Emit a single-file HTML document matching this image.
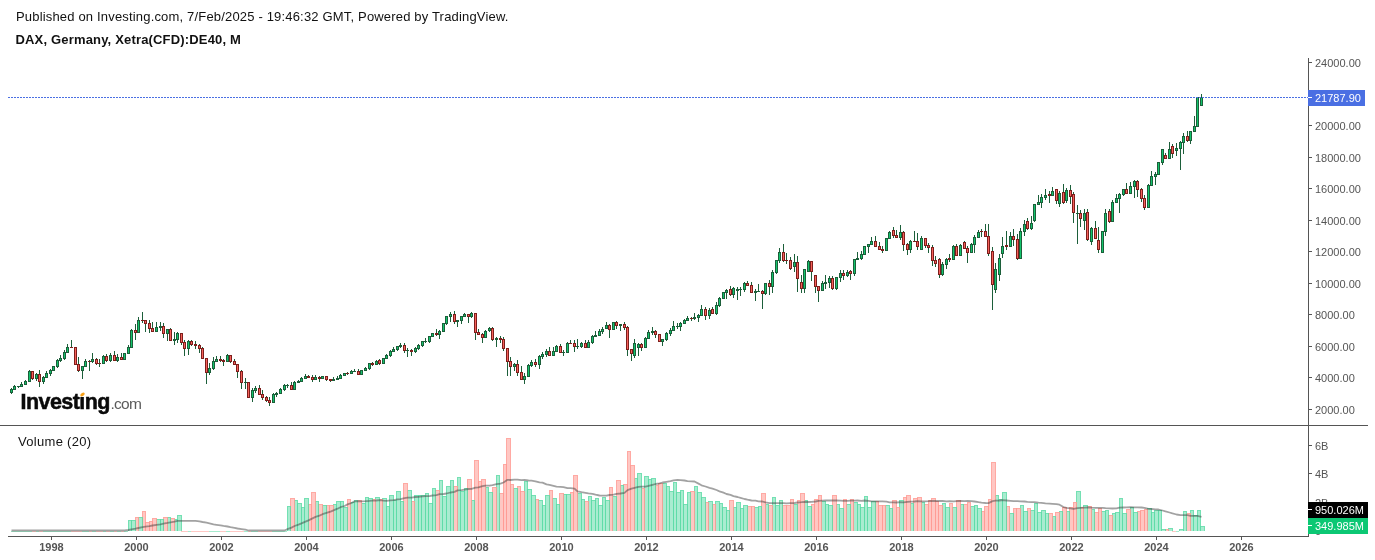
<!DOCTYPE html>
<html><head><meta charset="utf-8"><title>DAX, Germany, Xetra(CFD):DE40, M</title>
<style>
html,body{margin:0;padding:0;background:#fff;}
body{width:1375px;height:560px;overflow:hidden;position:relative;font-family:"Liberation Sans",sans-serif;}
svg{position:absolute;left:0;top:0;}
svg rect, svg path{shape-rendering:crispEdges;}
.t{font:11px "Liberation Sans",sans-serif;fill:#555;}
.tb{font:bold 11px "Liberation Sans",sans-serif;fill:#555;}
.tw{font:11px "Liberation Sans",sans-serif;fill:#fff;}
.h1{position:absolute;left:16px;top:9px;font-size:13px;line-height:15px;color:#111;white-space:nowrap;letter-spacing:0.175px;}
.h2{position:absolute;left:15.5px;top:32px;font-size:13px;line-height:15px;font-weight:bold;color:#111;white-space:nowrap;letter-spacing:0.17px;}
.vl{position:absolute;left:18px;top:433.5px;font-size:13px;line-height:15px;color:#151515;white-space:nowrap;letter-spacing:0.3px;}
.logo{position:absolute;left:20.5px;top:389.5px;white-space:nowrap;line-height:24px;height:24px;}
.logo b{font-size:21.5px;letter-spacing:-0.55px;color:#0a0a0a;font-weight:bold;-webkit-text-stroke:0.5px #0a0a0a;}
.logo span{font-size:15.5px;letter-spacing:-0.7px;color:#5a5a5a;margin-left:0.5px;}
.cover{position:absolute;left:78.5px;top:389px;width:7px;height:7.6px;background:#fff;}
.dot{position:absolute;left:79.5px;top:392.5px;width:5px;height:3px;background:#f7a11a;border-radius:50%;transform:rotate(-35deg);}
</style></head><body>
<svg width="1375" height="560" viewBox="0 0 1375 560">
<rect x="1201" y="527" width="3" height="4" fill="#a9ecd0"/>
<path d="M1200.5 531V526.5H1204.5V531" fill="none" stroke="#5cdaa6" stroke-opacity="0.85" stroke-width="1"/>
<rect x="1198" y="511" width="2" height="20" fill="#a9ecd0"/>
<path d="M1197.5 531V510.5H1200.5V531" fill="none" stroke="#5cdaa6" stroke-opacity="0.85" stroke-width="1"/>
<rect x="1194" y="516" width="3" height="15" fill="#a9ecd0"/>
<path d="M1193.5 531V515.5H1197.5V531" fill="none" stroke="#5cdaa6" stroke-opacity="0.85" stroke-width="1"/>
<rect x="1191" y="511" width="2" height="20" fill="#a9ecd0"/>
<path d="M1190.5 531V510.5H1193.5V531" fill="none" stroke="#5cdaa6" stroke-opacity="0.85" stroke-width="1"/>
<rect x="1187" y="514" width="3" height="17" fill="#ffc7c3"/>
<path d="M1186.5 531V513.5H1190.5V531" fill="none" stroke="#ff9a93" stroke-opacity="0.85" stroke-width="1"/>
<rect x="1184" y="512" width="2" height="19" fill="#a9ecd0"/>
<path d="M1183.5 531V511.5H1186.5V531" fill="none" stroke="#5cdaa6" stroke-opacity="0.85" stroke-width="1"/>
<rect x="1180" y="530" width="3" height="1" fill="#a9ecd0"/>
<path d="M1179.5 531V529.5H1183.5V531" fill="none" stroke="#5cdaa6" stroke-opacity="0.85" stroke-width="1"/>
<rect x="1176" y="531" width="3" height="1" fill="#5cdaa6" opacity="0.55"/>
<rect x="1172" y="531" width="4" height="1" fill="#ff9a93" opacity="0.55"/>
<rect x="1169" y="529" width="3" height="2" fill="#a9ecd0"/>
<path d="M1168.5 531V528.5H1172.5V531" fill="none" stroke="#5cdaa6" stroke-opacity="0.85" stroke-width="1"/>
<rect x="1166" y="530" width="2" height="1" fill="#ffc7c3"/>
<path d="M1165.5 531V529.5H1168.5V531" fill="none" stroke="#ff9a93" stroke-opacity="0.85" stroke-width="1"/>
<rect x="1162" y="530" width="3" height="1" fill="#a9ecd0"/>
<path d="M1161.5 531V529.5H1165.5V531" fill="none" stroke="#5cdaa6" stroke-opacity="0.85" stroke-width="1"/>
<rect x="1159" y="511" width="2" height="20" fill="#a9ecd0"/>
<path d="M1158.5 531V510.5H1161.5V531" fill="none" stroke="#5cdaa6" stroke-opacity="0.85" stroke-width="1"/>
<rect x="1155" y="511" width="3" height="20" fill="#a9ecd0"/>
<path d="M1154.5 531V510.5H1158.5V531" fill="none" stroke="#5cdaa6" stroke-opacity="0.85" stroke-width="1"/>
<rect x="1152" y="513" width="2" height="18" fill="#a9ecd0"/>
<path d="M1151.5 531V512.5H1154.5V531" fill="none" stroke="#5cdaa6" stroke-opacity="0.85" stroke-width="1"/>
<rect x="1148" y="509" width="3" height="22" fill="#a9ecd0"/>
<path d="M1147.5 531V508.5H1151.5V531" fill="none" stroke="#5cdaa6" stroke-opacity="0.85" stroke-width="1"/>
<rect x="1145" y="510" width="2" height="21" fill="#ffc7c3"/>
<path d="M1144.5 531V509.5H1147.5V531" fill="none" stroke="#ff9a93" stroke-opacity="0.85" stroke-width="1"/>
<rect x="1141" y="511" width="3" height="20" fill="#ffc7c3"/>
<path d="M1140.5 531V510.5H1144.5V531" fill="none" stroke="#ff9a93" stroke-opacity="0.85" stroke-width="1"/>
<rect x="1138" y="512" width="2" height="19" fill="#ffc7c3"/>
<path d="M1137.5 531V511.5H1140.5V531" fill="none" stroke="#ff9a93" stroke-opacity="0.85" stroke-width="1"/>
<rect x="1134" y="513" width="3" height="18" fill="#a9ecd0"/>
<path d="M1133.5 531V512.5H1137.5V531" fill="none" stroke="#5cdaa6" stroke-opacity="0.85" stroke-width="1"/>
<rect x="1131" y="508" width="2" height="23" fill="#a9ecd0"/>
<path d="M1130.5 531V507.5H1133.5V531" fill="none" stroke="#5cdaa6" stroke-opacity="0.85" stroke-width="1"/>
<rect x="1127" y="510" width="3" height="21" fill="#ffc7c3"/>
<path d="M1126.5 531V509.5H1130.5V531" fill="none" stroke="#ff9a93" stroke-opacity="0.85" stroke-width="1"/>
<rect x="1123" y="514" width="3" height="17" fill="#a9ecd0"/>
<path d="M1122.5 531V513.5H1126.5V531" fill="none" stroke="#5cdaa6" stroke-opacity="0.85" stroke-width="1"/>
<rect x="1120" y="499" width="2" height="32" fill="#a9ecd0"/>
<path d="M1119.5 531V498.5H1122.5V531" fill="none" stroke="#5cdaa6" stroke-opacity="0.85" stroke-width="1"/>
<rect x="1116" y="513" width="3" height="18" fill="#a9ecd0"/>
<path d="M1115.5 531V512.5H1119.5V531" fill="none" stroke="#5cdaa6" stroke-opacity="0.85" stroke-width="1"/>
<rect x="1113" y="514" width="2" height="17" fill="#a9ecd0"/>
<path d="M1112.5 531V513.5H1115.5V531" fill="none" stroke="#5cdaa6" stroke-opacity="0.85" stroke-width="1"/>
<rect x="1109" y="516" width="3" height="15" fill="#ffc7c3"/>
<path d="M1108.5 531V515.5H1112.5V531" fill="none" stroke="#ff9a93" stroke-opacity="0.85" stroke-width="1"/>
<rect x="1106" y="511" width="2" height="20" fill="#a9ecd0"/>
<path d="M1105.5 531V510.5H1108.5V531" fill="none" stroke="#5cdaa6" stroke-opacity="0.85" stroke-width="1"/>
<rect x="1102" y="512" width="3" height="19" fill="#a9ecd0"/>
<path d="M1101.5 531V511.5H1105.5V531" fill="none" stroke="#5cdaa6" stroke-opacity="0.85" stroke-width="1"/>
<rect x="1099" y="509" width="2" height="22" fill="#ffc7c3"/>
<path d="M1098.5 531V508.5H1101.5V531" fill="none" stroke="#ff9a93" stroke-opacity="0.85" stroke-width="1"/>
<rect x="1095" y="513" width="3" height="18" fill="#ffc7c3"/>
<path d="M1094.5 531V512.5H1098.5V531" fill="none" stroke="#ff9a93" stroke-opacity="0.85" stroke-width="1"/>
<rect x="1092" y="510" width="2" height="21" fill="#a9ecd0"/>
<path d="M1091.5 531V509.5H1094.5V531" fill="none" stroke="#5cdaa6" stroke-opacity="0.85" stroke-width="1"/>
<rect x="1088" y="507" width="3" height="24" fill="#ffc7c3"/>
<path d="M1087.5 531V506.5H1091.5V531" fill="none" stroke="#ff9a93" stroke-opacity="0.85" stroke-width="1"/>
<rect x="1084" y="506" width="3" height="25" fill="#a9ecd0"/>
<path d="M1083.5 531V505.5H1087.5V531" fill="none" stroke="#5cdaa6" stroke-opacity="0.85" stroke-width="1"/>
<rect x="1081" y="508" width="2" height="23" fill="#ffc7c3"/>
<path d="M1080.5 531V507.5H1083.5V531" fill="none" stroke="#ff9a93" stroke-opacity="0.85" stroke-width="1"/>
<rect x="1077" y="492" width="3" height="39" fill="#a9ecd0"/>
<path d="M1076.5 531V491.5H1080.5V531" fill="none" stroke="#5cdaa6" stroke-opacity="0.85" stroke-width="1"/>
<rect x="1074" y="503" width="2" height="28" fill="#ffc7c3"/>
<path d="M1073.5 531V502.5H1076.5V531" fill="none" stroke="#ff9a93" stroke-opacity="0.85" stroke-width="1"/>
<rect x="1070" y="508" width="3" height="23" fill="#ffc7c3"/>
<path d="M1069.5 531V507.5H1073.5V531" fill="none" stroke="#ff9a93" stroke-opacity="0.85" stroke-width="1"/>
<rect x="1067" y="512" width="2" height="19" fill="#a9ecd0"/>
<path d="M1066.5 531V511.5H1069.5V531" fill="none" stroke="#5cdaa6" stroke-opacity="0.85" stroke-width="1"/>
<rect x="1063" y="508" width="3" height="23" fill="#ffc7c3"/>
<path d="M1062.5 531V507.5H1066.5V531" fill="none" stroke="#ff9a93" stroke-opacity="0.85" stroke-width="1"/>
<rect x="1060" y="512" width="2" height="19" fill="#a9ecd0"/>
<path d="M1059.5 531V511.5H1062.5V531" fill="none" stroke="#5cdaa6" stroke-opacity="0.85" stroke-width="1"/>
<rect x="1056" y="513" width="3" height="18" fill="#ffc7c3"/>
<path d="M1055.5 531V512.5H1059.5V531" fill="none" stroke="#ff9a93" stroke-opacity="0.85" stroke-width="1"/>
<rect x="1053" y="517" width="2" height="14" fill="#a9ecd0"/>
<path d="M1052.5 531V516.5H1055.5V531" fill="none" stroke="#5cdaa6" stroke-opacity="0.85" stroke-width="1"/>
<rect x="1049" y="514" width="3" height="17" fill="#ffc7c3"/>
<path d="M1048.5 531V513.5H1052.5V531" fill="none" stroke="#ff9a93" stroke-opacity="0.85" stroke-width="1"/>
<rect x="1046" y="514" width="2" height="17" fill="#a9ecd0"/>
<path d="M1045.5 531V513.5H1048.5V531" fill="none" stroke="#5cdaa6" stroke-opacity="0.85" stroke-width="1"/>
<rect x="1042" y="511" width="3" height="20" fill="#a9ecd0"/>
<path d="M1041.5 531V510.5H1045.5V531" fill="none" stroke="#5cdaa6" stroke-opacity="0.85" stroke-width="1"/>
<rect x="1038" y="513" width="3" height="18" fill="#a9ecd0"/>
<path d="M1037.5 531V512.5H1041.5V531" fill="none" stroke="#5cdaa6" stroke-opacity="0.85" stroke-width="1"/>
<rect x="1035" y="504" width="2" height="27" fill="#a9ecd0"/>
<path d="M1034.5 531V503.5H1037.5V531" fill="none" stroke="#5cdaa6" stroke-opacity="0.85" stroke-width="1"/>
<rect x="1031" y="511" width="3" height="20" fill="#a9ecd0"/>
<path d="M1030.5 531V510.5H1034.5V531" fill="none" stroke="#5cdaa6" stroke-opacity="0.85" stroke-width="1"/>
<rect x="1028" y="509" width="2" height="22" fill="#ffc7c3"/>
<path d="M1027.5 531V508.5H1030.5V531" fill="none" stroke="#ff9a93" stroke-opacity="0.85" stroke-width="1"/>
<rect x="1024" y="512" width="3" height="19" fill="#a9ecd0"/>
<path d="M1023.5 531V511.5H1027.5V531" fill="none" stroke="#5cdaa6" stroke-opacity="0.85" stroke-width="1"/>
<rect x="1021" y="506" width="2" height="25" fill="#a9ecd0"/>
<path d="M1020.5 531V505.5H1023.5V531" fill="none" stroke="#5cdaa6" stroke-opacity="0.85" stroke-width="1"/>
<rect x="1017" y="509" width="3" height="22" fill="#ffc7c3"/>
<path d="M1016.5 531V508.5H1020.5V531" fill="none" stroke="#ff9a93" stroke-opacity="0.85" stroke-width="1"/>
<rect x="1014" y="509" width="2" height="22" fill="#ffc7c3"/>
<path d="M1013.5 531V508.5H1016.5V531" fill="none" stroke="#ff9a93" stroke-opacity="0.85" stroke-width="1"/>
<rect x="1010" y="514" width="3" height="17" fill="#a9ecd0"/>
<path d="M1009.5 531V513.5H1013.5V531" fill="none" stroke="#5cdaa6" stroke-opacity="0.85" stroke-width="1"/>
<rect x="1007" y="507" width="2" height="24" fill="#ffc7c3"/>
<path d="M1006.5 531V506.5H1009.5V531" fill="none" stroke="#ff9a93" stroke-opacity="0.85" stroke-width="1"/>
<rect x="1003" y="493" width="3" height="38" fill="#a9ecd0"/>
<path d="M1002.5 531V492.5H1006.5V531" fill="none" stroke="#5cdaa6" stroke-opacity="0.85" stroke-width="1"/>
<rect x="999" y="500" width="3" height="31" fill="#a9ecd0"/>
<path d="M998.5 531V499.5H1002.5V531" fill="none" stroke="#5cdaa6" stroke-opacity="0.85" stroke-width="1"/>
<rect x="996" y="496" width="2" height="35" fill="#a9ecd0"/>
<path d="M995.5 531V495.5H998.5V531" fill="none" stroke="#5cdaa6" stroke-opacity="0.85" stroke-width="1"/>
<rect x="992" y="463" width="3" height="68" fill="#ffc7c3"/>
<path d="M991.5 531V462.5H995.5V531" fill="none" stroke="#ff9a93" stroke-opacity="0.85" stroke-width="1"/>
<rect x="989" y="500" width="2" height="31" fill="#ffc7c3"/>
<path d="M988.5 531V499.5H991.5V531" fill="none" stroke="#ff9a93" stroke-opacity="0.85" stroke-width="1"/>
<rect x="985" y="507" width="3" height="24" fill="#ffc7c3"/>
<path d="M984.5 531V506.5H988.5V531" fill="none" stroke="#ff9a93" stroke-opacity="0.85" stroke-width="1"/>
<rect x="982" y="512" width="2" height="19" fill="#ffc7c3"/>
<path d="M981.5 531V511.5H984.5V531" fill="none" stroke="#ff9a93" stroke-opacity="0.85" stroke-width="1"/>
<rect x="978" y="509" width="3" height="22" fill="#a9ecd0"/>
<path d="M977.5 531V508.5H981.5V531" fill="none" stroke="#5cdaa6" stroke-opacity="0.85" stroke-width="1"/>
<rect x="975" y="506" width="2" height="25" fill="#a9ecd0"/>
<path d="M974.5 531V505.5H977.5V531" fill="none" stroke="#5cdaa6" stroke-opacity="0.85" stroke-width="1"/>
<rect x="971" y="507" width="3" height="24" fill="#a9ecd0"/>
<path d="M970.5 531V506.5H974.5V531" fill="none" stroke="#5cdaa6" stroke-opacity="0.85" stroke-width="1"/>
<rect x="968" y="503" width="2" height="28" fill="#ffc7c3"/>
<path d="M967.5 531V502.5H970.5V531" fill="none" stroke="#ff9a93" stroke-opacity="0.85" stroke-width="1"/>
<rect x="964" y="505" width="3" height="26" fill="#ffc7c3"/>
<path d="M963.5 531V504.5H967.5V531" fill="none" stroke="#ff9a93" stroke-opacity="0.85" stroke-width="1"/>
<rect x="961" y="505" width="2" height="26" fill="#a9ecd0"/>
<path d="M960.5 531V504.5H963.5V531" fill="none" stroke="#5cdaa6" stroke-opacity="0.85" stroke-width="1"/>
<rect x="957" y="501" width="3" height="30" fill="#ffc7c3"/>
<path d="M956.5 531V500.5H960.5V531" fill="none" stroke="#ff9a93" stroke-opacity="0.85" stroke-width="1"/>
<rect x="953" y="508" width="3" height="23" fill="#a9ecd0"/>
<path d="M952.5 531V507.5H956.5V531" fill="none" stroke="#5cdaa6" stroke-opacity="0.85" stroke-width="1"/>
<rect x="950" y="504" width="2" height="27" fill="#ffc7c3"/>
<path d="M949.5 531V503.5H952.5V531" fill="none" stroke="#ff9a93" stroke-opacity="0.85" stroke-width="1"/>
<rect x="946" y="508" width="3" height="23" fill="#a9ecd0"/>
<path d="M945.5 531V507.5H949.5V531" fill="none" stroke="#5cdaa6" stroke-opacity="0.85" stroke-width="1"/>
<rect x="943" y="504" width="2" height="27" fill="#a9ecd0"/>
<path d="M942.5 531V503.5H945.5V531" fill="none" stroke="#5cdaa6" stroke-opacity="0.85" stroke-width="1"/>
<rect x="939" y="506" width="3" height="25" fill="#ffc7c3"/>
<path d="M938.5 531V505.5H942.5V531" fill="none" stroke="#ff9a93" stroke-opacity="0.85" stroke-width="1"/>
<rect x="936" y="502" width="2" height="29" fill="#ffc7c3"/>
<path d="M935.5 531V501.5H938.5V531" fill="none" stroke="#ff9a93" stroke-opacity="0.85" stroke-width="1"/>
<rect x="932" y="499" width="3" height="32" fill="#ffc7c3"/>
<path d="M931.5 531V498.5H935.5V531" fill="none" stroke="#ff9a93" stroke-opacity="0.85" stroke-width="1"/>
<rect x="929" y="501" width="2" height="30" fill="#ffc7c3"/>
<path d="M928.5 531V500.5H931.5V531" fill="none" stroke="#ff9a93" stroke-opacity="0.85" stroke-width="1"/>
<rect x="925" y="505" width="3" height="26" fill="#ffc7c3"/>
<path d="M924.5 531V504.5H928.5V531" fill="none" stroke="#ff9a93" stroke-opacity="0.85" stroke-width="1"/>
<rect x="922" y="503" width="2" height="28" fill="#a9ecd0"/>
<path d="M921.5 531V502.5H924.5V531" fill="none" stroke="#5cdaa6" stroke-opacity="0.85" stroke-width="1"/>
<rect x="918" y="498" width="3" height="33" fill="#ffc7c3"/>
<path d="M917.5 531V497.5H921.5V531" fill="none" stroke="#ff9a93" stroke-opacity="0.85" stroke-width="1"/>
<rect x="914" y="499" width="3" height="32" fill="#ffc7c3"/>
<path d="M913.5 531V498.5H917.5V531" fill="none" stroke="#ff9a93" stroke-opacity="0.85" stroke-width="1"/>
<rect x="911" y="504" width="2" height="27" fill="#a9ecd0"/>
<path d="M910.5 531V503.5H913.5V531" fill="none" stroke="#5cdaa6" stroke-opacity="0.85" stroke-width="1"/>
<rect x="907" y="496" width="3" height="35" fill="#ffc7c3"/>
<path d="M906.5 531V495.5H910.5V531" fill="none" stroke="#ff9a93" stroke-opacity="0.85" stroke-width="1"/>
<rect x="904" y="498" width="2" height="33" fill="#ffc7c3"/>
<path d="M903.5 531V497.5H906.5V531" fill="none" stroke="#ff9a93" stroke-opacity="0.85" stroke-width="1"/>
<rect x="900" y="501" width="3" height="30" fill="#a9ecd0"/>
<path d="M899.5 531V500.5H903.5V531" fill="none" stroke="#5cdaa6" stroke-opacity="0.85" stroke-width="1"/>
<rect x="897" y="508" width="2" height="23" fill="#ffc7c3"/>
<path d="M896.5 531V507.5H899.5V531" fill="none" stroke="#ff9a93" stroke-opacity="0.85" stroke-width="1"/>
<rect x="893" y="501" width="3" height="30" fill="#ffc7c3"/>
<path d="M892.5 531V500.5H896.5V531" fill="none" stroke="#ff9a93" stroke-opacity="0.85" stroke-width="1"/>
<rect x="890" y="509" width="2" height="22" fill="#a9ecd0"/>
<path d="M889.5 531V508.5H892.5V531" fill="none" stroke="#5cdaa6" stroke-opacity="0.85" stroke-width="1"/>
<rect x="886" y="506" width="3" height="25" fill="#a9ecd0"/>
<path d="M885.5 531V505.5H889.5V531" fill="none" stroke="#5cdaa6" stroke-opacity="0.85" stroke-width="1"/>
<rect x="883" y="506" width="2" height="25" fill="#ffc7c3"/>
<path d="M882.5 531V505.5H885.5V531" fill="none" stroke="#ff9a93" stroke-opacity="0.85" stroke-width="1"/>
<rect x="879" y="506" width="3" height="25" fill="#ffc7c3"/>
<path d="M878.5 531V505.5H882.5V531" fill="none" stroke="#ff9a93" stroke-opacity="0.85" stroke-width="1"/>
<rect x="876" y="502" width="2" height="29" fill="#ffc7c3"/>
<path d="M875.5 531V501.5H878.5V531" fill="none" stroke="#ff9a93" stroke-opacity="0.85" stroke-width="1"/>
<rect x="872" y="502" width="3" height="29" fill="#a9ecd0"/>
<path d="M871.5 531V501.5H875.5V531" fill="none" stroke="#5cdaa6" stroke-opacity="0.85" stroke-width="1"/>
<rect x="868" y="508" width="3" height="23" fill="#a9ecd0"/>
<path d="M867.5 531V507.5H871.5V531" fill="none" stroke="#5cdaa6" stroke-opacity="0.85" stroke-width="1"/>
<rect x="865" y="497" width="2" height="34" fill="#a9ecd0"/>
<path d="M864.5 531V496.5H867.5V531" fill="none" stroke="#5cdaa6" stroke-opacity="0.85" stroke-width="1"/>
<rect x="861" y="508" width="3" height="23" fill="#a9ecd0"/>
<path d="M860.5 531V507.5H864.5V531" fill="none" stroke="#5cdaa6" stroke-opacity="0.85" stroke-width="1"/>
<rect x="858" y="505" width="2" height="26" fill="#a9ecd0"/>
<path d="M857.5 531V504.5H860.5V531" fill="none" stroke="#5cdaa6" stroke-opacity="0.85" stroke-width="1"/>
<rect x="854" y="503" width="3" height="28" fill="#a9ecd0"/>
<path d="M853.5 531V502.5H857.5V531" fill="none" stroke="#5cdaa6" stroke-opacity="0.85" stroke-width="1"/>
<rect x="851" y="500" width="2" height="31" fill="#ffc7c3"/>
<path d="M850.5 531V499.5H853.5V531" fill="none" stroke="#ff9a93" stroke-opacity="0.85" stroke-width="1"/>
<rect x="847" y="505" width="3" height="26" fill="#a9ecd0"/>
<path d="M846.5 531V504.5H850.5V531" fill="none" stroke="#5cdaa6" stroke-opacity="0.85" stroke-width="1"/>
<rect x="844" y="500" width="2" height="31" fill="#ffc7c3"/>
<path d="M843.5 531V499.5H846.5V531" fill="none" stroke="#ff9a93" stroke-opacity="0.85" stroke-width="1"/>
<rect x="840" y="509" width="3" height="22" fill="#a9ecd0"/>
<path d="M839.5 531V508.5H843.5V531" fill="none" stroke="#5cdaa6" stroke-opacity="0.85" stroke-width="1"/>
<rect x="837" y="505" width="2" height="26" fill="#a9ecd0"/>
<path d="M836.5 531V504.5H839.5V531" fill="none" stroke="#5cdaa6" stroke-opacity="0.85" stroke-width="1"/>
<rect x="833" y="496" width="3" height="35" fill="#ffc7c3"/>
<path d="M832.5 531V495.5H836.5V531" fill="none" stroke="#ff9a93" stroke-opacity="0.85" stroke-width="1"/>
<rect x="829" y="506" width="3" height="25" fill="#a9ecd0"/>
<path d="M828.5 531V505.5H832.5V531" fill="none" stroke="#5cdaa6" stroke-opacity="0.85" stroke-width="1"/>
<rect x="826" y="505" width="2" height="26" fill="#a9ecd0"/>
<path d="M825.5 531V504.5H828.5V531" fill="none" stroke="#5cdaa6" stroke-opacity="0.85" stroke-width="1"/>
<rect x="822" y="502" width="3" height="29" fill="#a9ecd0"/>
<path d="M821.5 531V501.5H825.5V531" fill="none" stroke="#5cdaa6" stroke-opacity="0.85" stroke-width="1"/>
<rect x="819" y="496" width="2" height="35" fill="#ffc7c3"/>
<path d="M818.5 531V495.5H821.5V531" fill="none" stroke="#ff9a93" stroke-opacity="0.85" stroke-width="1"/>
<rect x="815" y="500" width="3" height="31" fill="#ffc7c3"/>
<path d="M814.5 531V499.5H818.5V531" fill="none" stroke="#ff9a93" stroke-opacity="0.85" stroke-width="1"/>
<rect x="812" y="505" width="2" height="26" fill="#ffc7c3"/>
<path d="M811.5 531V504.5H814.5V531" fill="none" stroke="#ff9a93" stroke-opacity="0.85" stroke-width="1"/>
<rect x="808" y="507" width="3" height="24" fill="#a9ecd0"/>
<path d="M807.5 531V506.5H811.5V531" fill="none" stroke="#5cdaa6" stroke-opacity="0.85" stroke-width="1"/>
<rect x="805" y="501" width="2" height="30" fill="#a9ecd0"/>
<path d="M804.5 531V500.5H807.5V531" fill="none" stroke="#5cdaa6" stroke-opacity="0.85" stroke-width="1"/>
<rect x="801" y="494" width="3" height="37" fill="#ffc7c3"/>
<path d="M800.5 531V493.5H804.5V531" fill="none" stroke="#ff9a93" stroke-opacity="0.85" stroke-width="1"/>
<rect x="798" y="501" width="2" height="30" fill="#ffc7c3"/>
<path d="M797.5 531V500.5H800.5V531" fill="none" stroke="#ff9a93" stroke-opacity="0.85" stroke-width="1"/>
<rect x="794" y="505" width="3" height="26" fill="#a9ecd0"/>
<path d="M793.5 531V504.5H797.5V531" fill="none" stroke="#5cdaa6" stroke-opacity="0.85" stroke-width="1"/>
<rect x="791" y="500" width="2" height="31" fill="#ffc7c3"/>
<path d="M790.5 531V499.5H793.5V531" fill="none" stroke="#ff9a93" stroke-opacity="0.85" stroke-width="1"/>
<rect x="787" y="506" width="3" height="25" fill="#ffc7c3"/>
<path d="M786.5 531V505.5H790.5V531" fill="none" stroke="#ff9a93" stroke-opacity="0.85" stroke-width="1"/>
<rect x="783" y="506" width="3" height="25" fill="#ffc7c3"/>
<path d="M782.5 531V505.5H786.5V531" fill="none" stroke="#ff9a93" stroke-opacity="0.85" stroke-width="1"/>
<rect x="780" y="501" width="2" height="30" fill="#a9ecd0"/>
<path d="M779.5 531V500.5H782.5V531" fill="none" stroke="#5cdaa6" stroke-opacity="0.85" stroke-width="1"/>
<rect x="776" y="506" width="3" height="25" fill="#a9ecd0"/>
<path d="M775.5 531V505.5H779.5V531" fill="none" stroke="#5cdaa6" stroke-opacity="0.85" stroke-width="1"/>
<rect x="773" y="498" width="2" height="33" fill="#a9ecd0"/>
<path d="M772.5 531V497.5H775.5V531" fill="none" stroke="#5cdaa6" stroke-opacity="0.85" stroke-width="1"/>
<rect x="769" y="506" width="3" height="25" fill="#ffc7c3"/>
<path d="M768.5 531V505.5H772.5V531" fill="none" stroke="#ff9a93" stroke-opacity="0.85" stroke-width="1"/>
<rect x="766" y="505" width="2" height="26" fill="#a9ecd0"/>
<path d="M765.5 531V504.5H768.5V531" fill="none" stroke="#5cdaa6" stroke-opacity="0.85" stroke-width="1"/>
<rect x="762" y="494" width="3" height="37" fill="#ffc7c3"/>
<path d="M761.5 531V493.5H765.5V531" fill="none" stroke="#ff9a93" stroke-opacity="0.85" stroke-width="1"/>
<rect x="759" y="507" width="2" height="24" fill="#a9ecd0"/>
<path d="M758.5 531V506.5H761.5V531" fill="none" stroke="#5cdaa6" stroke-opacity="0.85" stroke-width="1"/>
<rect x="755" y="508" width="3" height="23" fill="#a9ecd0"/>
<path d="M754.5 531V507.5H758.5V531" fill="none" stroke="#5cdaa6" stroke-opacity="0.85" stroke-width="1"/>
<rect x="752" y="507" width="2" height="24" fill="#ffc7c3"/>
<path d="M751.5 531V506.5H754.5V531" fill="none" stroke="#ff9a93" stroke-opacity="0.85" stroke-width="1"/>
<rect x="748" y="507" width="3" height="24" fill="#ffc7c3"/>
<path d="M747.5 531V506.5H751.5V531" fill="none" stroke="#ff9a93" stroke-opacity="0.85" stroke-width="1"/>
<rect x="744" y="506" width="3" height="25" fill="#a9ecd0"/>
<path d="M743.5 531V505.5H747.5V531" fill="none" stroke="#5cdaa6" stroke-opacity="0.85" stroke-width="1"/>
<rect x="741" y="509" width="2" height="22" fill="#a9ecd0"/>
<path d="M740.5 531V508.5H743.5V531" fill="none" stroke="#5cdaa6" stroke-opacity="0.85" stroke-width="1"/>
<rect x="737" y="503" width="3" height="28" fill="#a9ecd0"/>
<path d="M736.5 531V502.5H740.5V531" fill="none" stroke="#5cdaa6" stroke-opacity="0.85" stroke-width="1"/>
<rect x="734" y="508" width="2" height="23" fill="#a9ecd0"/>
<path d="M733.5 531V507.5H736.5V531" fill="none" stroke="#5cdaa6" stroke-opacity="0.85" stroke-width="1"/>
<rect x="730" y="501" width="3" height="30" fill="#ffc7c3"/>
<path d="M729.5 531V500.5H733.5V531" fill="none" stroke="#ff9a93" stroke-opacity="0.85" stroke-width="1"/>
<rect x="727" y="511" width="2" height="20" fill="#a9ecd0"/>
<path d="M726.5 531V510.5H729.5V531" fill="none" stroke="#5cdaa6" stroke-opacity="0.85" stroke-width="1"/>
<rect x="723" y="508" width="3" height="23" fill="#a9ecd0"/>
<path d="M722.5 531V507.5H726.5V531" fill="none" stroke="#5cdaa6" stroke-opacity="0.85" stroke-width="1"/>
<rect x="720" y="504" width="2" height="27" fill="#a9ecd0"/>
<path d="M719.5 531V503.5H722.5V531" fill="none" stroke="#5cdaa6" stroke-opacity="0.85" stroke-width="1"/>
<rect x="716" y="502" width="3" height="29" fill="#a9ecd0"/>
<path d="M715.5 531V501.5H719.5V531" fill="none" stroke="#5cdaa6" stroke-opacity="0.85" stroke-width="1"/>
<rect x="713" y="505" width="2" height="26" fill="#ffc7c3"/>
<path d="M712.5 531V504.5H715.5V531" fill="none" stroke="#ff9a93" stroke-opacity="0.85" stroke-width="1"/>
<rect x="709" y="502" width="3" height="29" fill="#a9ecd0"/>
<path d="M708.5 531V501.5H712.5V531" fill="none" stroke="#5cdaa6" stroke-opacity="0.85" stroke-width="1"/>
<rect x="706" y="503" width="2" height="28" fill="#ffc7c3"/>
<path d="M705.5 531V502.5H708.5V531" fill="none" stroke="#ff9a93" stroke-opacity="0.85" stroke-width="1"/>
<rect x="702" y="498" width="3" height="33" fill="#a9ecd0"/>
<path d="M701.5 531V497.5H705.5V531" fill="none" stroke="#5cdaa6" stroke-opacity="0.85" stroke-width="1"/>
<rect x="698" y="493" width="3" height="38" fill="#a9ecd0"/>
<path d="M697.5 531V492.5H701.5V531" fill="none" stroke="#5cdaa6" stroke-opacity="0.85" stroke-width="1"/>
<rect x="695" y="487" width="2" height="44" fill="#a9ecd0"/>
<path d="M694.5 531V486.5H697.5V531" fill="none" stroke="#5cdaa6" stroke-opacity="0.85" stroke-width="1"/>
<rect x="691" y="492" width="3" height="39" fill="#ffc7c3"/>
<path d="M690.5 531V491.5H694.5V531" fill="none" stroke="#ff9a93" stroke-opacity="0.85" stroke-width="1"/>
<rect x="688" y="493" width="2" height="38" fill="#a9ecd0"/>
<path d="M687.5 531V492.5H690.5V531" fill="none" stroke="#5cdaa6" stroke-opacity="0.85" stroke-width="1"/>
<rect x="684" y="505" width="3" height="26" fill="#a9ecd0"/>
<path d="M683.5 531V504.5H687.5V531" fill="none" stroke="#5cdaa6" stroke-opacity="0.85" stroke-width="1"/>
<rect x="681" y="491" width="2" height="40" fill="#a9ecd0"/>
<path d="M680.5 531V490.5H683.5V531" fill="none" stroke="#5cdaa6" stroke-opacity="0.85" stroke-width="1"/>
<rect x="677" y="493" width="3" height="38" fill="#a9ecd0"/>
<path d="M676.5 531V492.5H680.5V531" fill="none" stroke="#5cdaa6" stroke-opacity="0.85" stroke-width="1"/>
<rect x="674" y="483" width="2" height="48" fill="#a9ecd0"/>
<path d="M673.5 531V482.5H676.5V531" fill="none" stroke="#5cdaa6" stroke-opacity="0.85" stroke-width="1"/>
<rect x="670" y="492" width="3" height="39" fill="#a9ecd0"/>
<path d="M669.5 531V491.5H673.5V531" fill="none" stroke="#5cdaa6" stroke-opacity="0.85" stroke-width="1"/>
<rect x="667" y="487" width="2" height="44" fill="#a9ecd0"/>
<path d="M666.5 531V486.5H669.5V531" fill="none" stroke="#5cdaa6" stroke-opacity="0.85" stroke-width="1"/>
<rect x="663" y="484" width="3" height="47" fill="#a9ecd0"/>
<path d="M662.5 531V483.5H666.5V531" fill="none" stroke="#5cdaa6" stroke-opacity="0.85" stroke-width="1"/>
<rect x="659" y="484" width="3" height="47" fill="#ffc7c3"/>
<path d="M658.5 531V483.5H662.5V531" fill="none" stroke="#ff9a93" stroke-opacity="0.85" stroke-width="1"/>
<rect x="656" y="486" width="2" height="45" fill="#ffc7c3"/>
<path d="M655.5 531V485.5H658.5V531" fill="none" stroke="#ff9a93" stroke-opacity="0.85" stroke-width="1"/>
<rect x="652" y="479" width="3" height="52" fill="#a9ecd0"/>
<path d="M651.5 531V478.5H655.5V531" fill="none" stroke="#5cdaa6" stroke-opacity="0.85" stroke-width="1"/>
<rect x="649" y="480" width="2" height="51" fill="#a9ecd0"/>
<path d="M648.5 531V479.5H651.5V531" fill="none" stroke="#5cdaa6" stroke-opacity="0.85" stroke-width="1"/>
<rect x="645" y="477" width="3" height="54" fill="#a9ecd0"/>
<path d="M644.5 531V476.5H648.5V531" fill="none" stroke="#5cdaa6" stroke-opacity="0.85" stroke-width="1"/>
<rect x="642" y="489" width="2" height="42" fill="#ffc7c3"/>
<path d="M641.5 531V488.5H644.5V531" fill="none" stroke="#ff9a93" stroke-opacity="0.85" stroke-width="1"/>
<rect x="638" y="474" width="3" height="57" fill="#a9ecd0"/>
<path d="M637.5 531V473.5H641.5V531" fill="none" stroke="#5cdaa6" stroke-opacity="0.85" stroke-width="1"/>
<rect x="635" y="479" width="2" height="52" fill="#a9ecd0"/>
<path d="M634.5 531V478.5H637.5V531" fill="none" stroke="#5cdaa6" stroke-opacity="0.85" stroke-width="1"/>
<rect x="631" y="466" width="3" height="65" fill="#ffc7c3"/>
<path d="M630.5 531V465.5H634.5V531" fill="none" stroke="#ff9a93" stroke-opacity="0.85" stroke-width="1"/>
<rect x="628" y="452" width="2" height="79" fill="#ffc7c3"/>
<path d="M627.5 531V451.5H630.5V531" fill="none" stroke="#ff9a93" stroke-opacity="0.85" stroke-width="1"/>
<rect x="624" y="485" width="3" height="46" fill="#ffc7c3"/>
<path d="M623.5 531V484.5H627.5V531" fill="none" stroke="#ff9a93" stroke-opacity="0.85" stroke-width="1"/>
<rect x="621" y="486" width="2" height="45" fill="#a9ecd0"/>
<path d="M620.5 531V485.5H623.5V531" fill="none" stroke="#5cdaa6" stroke-opacity="0.85" stroke-width="1"/>
<rect x="617" y="481" width="3" height="50" fill="#ffc7c3"/>
<path d="M616.5 531V480.5H620.5V531" fill="none" stroke="#ff9a93" stroke-opacity="0.85" stroke-width="1"/>
<rect x="613" y="497" width="3" height="34" fill="#a9ecd0"/>
<path d="M612.5 531V496.5H616.5V531" fill="none" stroke="#5cdaa6" stroke-opacity="0.85" stroke-width="1"/>
<rect x="610" y="488" width="2" height="43" fill="#ffc7c3"/>
<path d="M609.5 531V487.5H612.5V531" fill="none" stroke="#ff9a93" stroke-opacity="0.85" stroke-width="1"/>
<rect x="606" y="501" width="3" height="30" fill="#a9ecd0"/>
<path d="M605.5 531V500.5H609.5V531" fill="none" stroke="#5cdaa6" stroke-opacity="0.85" stroke-width="1"/>
<rect x="603" y="498" width="2" height="33" fill="#a9ecd0"/>
<path d="M602.5 531V497.5H605.5V531" fill="none" stroke="#5cdaa6" stroke-opacity="0.85" stroke-width="1"/>
<rect x="599" y="506" width="3" height="25" fill="#a9ecd0"/>
<path d="M598.5 531V505.5H602.5V531" fill="none" stroke="#5cdaa6" stroke-opacity="0.85" stroke-width="1"/>
<rect x="596" y="499" width="2" height="32" fill="#a9ecd0"/>
<path d="M595.5 531V498.5H598.5V531" fill="none" stroke="#5cdaa6" stroke-opacity="0.85" stroke-width="1"/>
<rect x="592" y="501" width="3" height="30" fill="#a9ecd0"/>
<path d="M591.5 531V500.5H595.5V531" fill="none" stroke="#5cdaa6" stroke-opacity="0.85" stroke-width="1"/>
<rect x="589" y="497" width="2" height="34" fill="#a9ecd0"/>
<path d="M588.5 531V496.5H591.5V531" fill="none" stroke="#5cdaa6" stroke-opacity="0.85" stroke-width="1"/>
<rect x="585" y="502" width="3" height="29" fill="#ffc7c3"/>
<path d="M584.5 531V501.5H588.5V531" fill="none" stroke="#ff9a93" stroke-opacity="0.85" stroke-width="1"/>
<rect x="582" y="500" width="2" height="31" fill="#a9ecd0"/>
<path d="M581.5 531V499.5H584.5V531" fill="none" stroke="#5cdaa6" stroke-opacity="0.85" stroke-width="1"/>
<rect x="578" y="494" width="3" height="37" fill="#a9ecd0"/>
<path d="M577.5 531V493.5H581.5V531" fill="none" stroke="#5cdaa6" stroke-opacity="0.85" stroke-width="1"/>
<rect x="574" y="476" width="3" height="55" fill="#ffc7c3"/>
<path d="M573.5 531V475.5H577.5V531" fill="none" stroke="#ff9a93" stroke-opacity="0.85" stroke-width="1"/>
<rect x="571" y="493" width="2" height="38" fill="#ffc7c3"/>
<path d="M570.5 531V492.5H573.5V531" fill="none" stroke="#ff9a93" stroke-opacity="0.85" stroke-width="1"/>
<rect x="567" y="495" width="3" height="36" fill="#a9ecd0"/>
<path d="M566.5 531V494.5H570.5V531" fill="none" stroke="#5cdaa6" stroke-opacity="0.85" stroke-width="1"/>
<rect x="564" y="495" width="2" height="36" fill="#a9ecd0"/>
<path d="M563.5 531V494.5H566.5V531" fill="none" stroke="#5cdaa6" stroke-opacity="0.85" stroke-width="1"/>
<rect x="560" y="494" width="3" height="37" fill="#ffc7c3"/>
<path d="M559.5 531V493.5H563.5V531" fill="none" stroke="#ff9a93" stroke-opacity="0.85" stroke-width="1"/>
<rect x="557" y="505" width="2" height="26" fill="#a9ecd0"/>
<path d="M556.5 531V504.5H559.5V531" fill="none" stroke="#5cdaa6" stroke-opacity="0.85" stroke-width="1"/>
<rect x="553" y="499" width="3" height="32" fill="#a9ecd0"/>
<path d="M552.5 531V498.5H556.5V531" fill="none" stroke="#5cdaa6" stroke-opacity="0.85" stroke-width="1"/>
<rect x="550" y="491" width="2" height="40" fill="#ffc7c3"/>
<path d="M549.5 531V490.5H552.5V531" fill="none" stroke="#ff9a93" stroke-opacity="0.85" stroke-width="1"/>
<rect x="546" y="496" width="3" height="35" fill="#a9ecd0"/>
<path d="M545.5 531V495.5H549.5V531" fill="none" stroke="#5cdaa6" stroke-opacity="0.85" stroke-width="1"/>
<rect x="543" y="506" width="2" height="25" fill="#a9ecd0"/>
<path d="M542.5 531V505.5H545.5V531" fill="none" stroke="#5cdaa6" stroke-opacity="0.85" stroke-width="1"/>
<rect x="539" y="501" width="3" height="30" fill="#a9ecd0"/>
<path d="M538.5 531V500.5H542.5V531" fill="none" stroke="#5cdaa6" stroke-opacity="0.85" stroke-width="1"/>
<rect x="536" y="500" width="2" height="31" fill="#ffc7c3"/>
<path d="M535.5 531V499.5H538.5V531" fill="none" stroke="#ff9a93" stroke-opacity="0.85" stroke-width="1"/>
<rect x="532" y="496" width="3" height="35" fill="#a9ecd0"/>
<path d="M531.5 531V495.5H535.5V531" fill="none" stroke="#5cdaa6" stroke-opacity="0.85" stroke-width="1"/>
<rect x="528" y="490" width="3" height="41" fill="#a9ecd0"/>
<path d="M527.5 531V489.5H531.5V531" fill="none" stroke="#5cdaa6" stroke-opacity="0.85" stroke-width="1"/>
<rect x="525" y="482" width="2" height="49" fill="#a9ecd0"/>
<path d="M524.5 531V481.5H527.5V531" fill="none" stroke="#5cdaa6" stroke-opacity="0.85" stroke-width="1"/>
<rect x="521" y="492" width="3" height="39" fill="#ffc7c3"/>
<path d="M520.5 531V491.5H524.5V531" fill="none" stroke="#ff9a93" stroke-opacity="0.85" stroke-width="1"/>
<rect x="518" y="487" width="2" height="44" fill="#ffc7c3"/>
<path d="M517.5 531V486.5H520.5V531" fill="none" stroke="#ff9a93" stroke-opacity="0.85" stroke-width="1"/>
<rect x="514" y="489" width="3" height="42" fill="#a9ecd0"/>
<path d="M513.5 531V488.5H517.5V531" fill="none" stroke="#5cdaa6" stroke-opacity="0.85" stroke-width="1"/>
<rect x="511" y="485" width="2" height="46" fill="#ffc7c3"/>
<path d="M510.5 531V484.5H513.5V531" fill="none" stroke="#ff9a93" stroke-opacity="0.85" stroke-width="1"/>
<rect x="507" y="439" width="3" height="92" fill="#ffc7c3"/>
<path d="M506.5 531V438.5H510.5V531" fill="none" stroke="#ff9a93" stroke-opacity="0.85" stroke-width="1"/>
<rect x="504" y="465" width="2" height="66" fill="#ffc7c3"/>
<path d="M503.5 531V464.5H506.5V531" fill="none" stroke="#ff9a93" stroke-opacity="0.85" stroke-width="1"/>
<rect x="500" y="494" width="3" height="37" fill="#ffc7c3"/>
<path d="M499.5 531V493.5H503.5V531" fill="none" stroke="#ff9a93" stroke-opacity="0.85" stroke-width="1"/>
<rect x="497" y="476" width="2" height="55" fill="#a9ecd0"/>
<path d="M496.5 531V475.5H499.5V531" fill="none" stroke="#5cdaa6" stroke-opacity="0.85" stroke-width="1"/>
<rect x="493" y="488" width="3" height="43" fill="#ffc7c3"/>
<path d="M492.5 531V487.5H496.5V531" fill="none" stroke="#ff9a93" stroke-opacity="0.85" stroke-width="1"/>
<rect x="489" y="493" width="3" height="38" fill="#a9ecd0"/>
<path d="M488.5 531V492.5H492.5V531" fill="none" stroke="#5cdaa6" stroke-opacity="0.85" stroke-width="1"/>
<rect x="486" y="488" width="2" height="43" fill="#a9ecd0"/>
<path d="M485.5 531V487.5H488.5V531" fill="none" stroke="#5cdaa6" stroke-opacity="0.85" stroke-width="1"/>
<rect x="482" y="480" width="3" height="51" fill="#ffc7c3"/>
<path d="M481.5 531V479.5H485.5V531" fill="none" stroke="#ff9a93" stroke-opacity="0.85" stroke-width="1"/>
<rect x="479" y="482" width="2" height="49" fill="#ffc7c3"/>
<path d="M478.5 531V481.5H481.5V531" fill="none" stroke="#ff9a93" stroke-opacity="0.85" stroke-width="1"/>
<rect x="475" y="461" width="3" height="70" fill="#ffc7c3"/>
<path d="M474.5 531V460.5H478.5V531" fill="none" stroke="#ff9a93" stroke-opacity="0.85" stroke-width="1"/>
<rect x="472" y="501" width="2" height="30" fill="#a9ecd0"/>
<path d="M471.5 531V500.5H474.5V531" fill="none" stroke="#5cdaa6" stroke-opacity="0.85" stroke-width="1"/>
<rect x="468" y="480" width="3" height="51" fill="#ffc7c3"/>
<path d="M467.5 531V479.5H471.5V531" fill="none" stroke="#ff9a93" stroke-opacity="0.85" stroke-width="1"/>
<rect x="465" y="489" width="2" height="42" fill="#a9ecd0"/>
<path d="M464.5 531V488.5H467.5V531" fill="none" stroke="#5cdaa6" stroke-opacity="0.85" stroke-width="1"/>
<rect x="461" y="492" width="3" height="39" fill="#a9ecd0"/>
<path d="M460.5 531V491.5H464.5V531" fill="none" stroke="#5cdaa6" stroke-opacity="0.85" stroke-width="1"/>
<rect x="458" y="478" width="2" height="53" fill="#a9ecd0"/>
<path d="M457.5 531V477.5H460.5V531" fill="none" stroke="#5cdaa6" stroke-opacity="0.85" stroke-width="1"/>
<rect x="454" y="487" width="3" height="44" fill="#ffc7c3"/>
<path d="M453.5 531V486.5H457.5V531" fill="none" stroke="#ff9a93" stroke-opacity="0.85" stroke-width="1"/>
<rect x="451" y="481" width="2" height="50" fill="#a9ecd0"/>
<path d="M450.5 531V480.5H453.5V531" fill="none" stroke="#5cdaa6" stroke-opacity="0.85" stroke-width="1"/>
<rect x="447" y="487" width="3" height="44" fill="#a9ecd0"/>
<path d="M446.5 531V486.5H450.5V531" fill="none" stroke="#5cdaa6" stroke-opacity="0.85" stroke-width="1"/>
<rect x="443" y="497" width="3" height="34" fill="#a9ecd0"/>
<path d="M442.5 531V496.5H446.5V531" fill="none" stroke="#5cdaa6" stroke-opacity="0.85" stroke-width="1"/>
<rect x="440" y="481" width="2" height="50" fill="#a9ecd0"/>
<path d="M439.5 531V480.5H442.5V531" fill="none" stroke="#5cdaa6" stroke-opacity="0.85" stroke-width="1"/>
<rect x="436" y="491" width="3" height="40" fill="#ffc7c3"/>
<path d="M435.5 531V490.5H439.5V531" fill="none" stroke="#ff9a93" stroke-opacity="0.85" stroke-width="1"/>
<rect x="433" y="489" width="2" height="42" fill="#a9ecd0"/>
<path d="M432.5 531V488.5H435.5V531" fill="none" stroke="#5cdaa6" stroke-opacity="0.85" stroke-width="1"/>
<rect x="429" y="504" width="3" height="27" fill="#a9ecd0"/>
<path d="M428.5 531V503.5H432.5V531" fill="none" stroke="#5cdaa6" stroke-opacity="0.85" stroke-width="1"/>
<rect x="426" y="494" width="2" height="37" fill="#a9ecd0"/>
<path d="M425.5 531V493.5H428.5V531" fill="none" stroke="#5cdaa6" stroke-opacity="0.85" stroke-width="1"/>
<rect x="422" y="496" width="3" height="35" fill="#a9ecd0"/>
<path d="M421.5 531V495.5H425.5V531" fill="none" stroke="#5cdaa6" stroke-opacity="0.85" stroke-width="1"/>
<rect x="419" y="496" width="2" height="35" fill="#a9ecd0"/>
<path d="M418.5 531V495.5H421.5V531" fill="none" stroke="#5cdaa6" stroke-opacity="0.85" stroke-width="1"/>
<rect x="415" y="496" width="3" height="35" fill="#a9ecd0"/>
<path d="M414.5 531V495.5H418.5V531" fill="none" stroke="#5cdaa6" stroke-opacity="0.85" stroke-width="1"/>
<rect x="412" y="502" width="2" height="29" fill="#ffc7c3"/>
<path d="M411.5 531V501.5H414.5V531" fill="none" stroke="#ff9a93" stroke-opacity="0.85" stroke-width="1"/>
<rect x="408" y="491" width="3" height="40" fill="#a9ecd0"/>
<path d="M407.5 531V490.5H411.5V531" fill="none" stroke="#5cdaa6" stroke-opacity="0.85" stroke-width="1"/>
<rect x="404" y="484" width="3" height="47" fill="#ffc7c3"/>
<path d="M403.5 531V483.5H407.5V531" fill="none" stroke="#ff9a93" stroke-opacity="0.85" stroke-width="1"/>
<rect x="401" y="502" width="2" height="29" fill="#a9ecd0"/>
<path d="M400.5 531V501.5H403.5V531" fill="none" stroke="#5cdaa6" stroke-opacity="0.85" stroke-width="1"/>
<rect x="397" y="492" width="3" height="39" fill="#a9ecd0"/>
<path d="M396.5 531V491.5H400.5V531" fill="none" stroke="#5cdaa6" stroke-opacity="0.85" stroke-width="1"/>
<rect x="394" y="501" width="2" height="30" fill="#a9ecd0"/>
<path d="M393.5 531V500.5H396.5V531" fill="none" stroke="#5cdaa6" stroke-opacity="0.85" stroke-width="1"/>
<rect x="390" y="496" width="3" height="35" fill="#a9ecd0"/>
<path d="M389.5 531V495.5H393.5V531" fill="none" stroke="#5cdaa6" stroke-opacity="0.85" stroke-width="1"/>
<rect x="387" y="507" width="2" height="24" fill="#a9ecd0"/>
<path d="M386.5 531V506.5H389.5V531" fill="none" stroke="#5cdaa6" stroke-opacity="0.85" stroke-width="1"/>
<rect x="383" y="499" width="3" height="32" fill="#a9ecd0"/>
<path d="M382.5 531V498.5H386.5V531" fill="none" stroke="#5cdaa6" stroke-opacity="0.85" stroke-width="1"/>
<rect x="380" y="500" width="2" height="31" fill="#ffc7c3"/>
<path d="M379.5 531V499.5H382.5V531" fill="none" stroke="#ff9a93" stroke-opacity="0.85" stroke-width="1"/>
<rect x="376" y="498" width="3" height="33" fill="#a9ecd0"/>
<path d="M375.5 531V497.5H379.5V531" fill="none" stroke="#5cdaa6" stroke-opacity="0.85" stroke-width="1"/>
<rect x="373" y="500" width="2" height="31" fill="#ffc7c3"/>
<path d="M372.5 531V499.5H375.5V531" fill="none" stroke="#ff9a93" stroke-opacity="0.85" stroke-width="1"/>
<rect x="369" y="499" width="3" height="32" fill="#a9ecd0"/>
<path d="M368.5 531V498.5H372.5V531" fill="none" stroke="#5cdaa6" stroke-opacity="0.85" stroke-width="1"/>
<rect x="366" y="498" width="2" height="33" fill="#a9ecd0"/>
<path d="M365.5 531V497.5H368.5V531" fill="none" stroke="#5cdaa6" stroke-opacity="0.85" stroke-width="1"/>
<rect x="362" y="504" width="3" height="27" fill="#a9ecd0"/>
<path d="M361.5 531V503.5H365.5V531" fill="none" stroke="#5cdaa6" stroke-opacity="0.85" stroke-width="1"/>
<rect x="358" y="501" width="3" height="30" fill="#ffc7c3"/>
<path d="M357.5 531V500.5H361.5V531" fill="none" stroke="#ff9a93" stroke-opacity="0.85" stroke-width="1"/>
<rect x="355" y="501" width="2" height="30" fill="#a9ecd0"/>
<path d="M354.5 531V500.5H357.5V531" fill="none" stroke="#5cdaa6" stroke-opacity="0.85" stroke-width="1"/>
<rect x="351" y="503" width="3" height="28" fill="#a9ecd0"/>
<path d="M350.5 531V502.5H354.5V531" fill="none" stroke="#5cdaa6" stroke-opacity="0.85" stroke-width="1"/>
<rect x="348" y="500" width="2" height="31" fill="#ffc7c3"/>
<path d="M347.5 531V499.5H350.5V531" fill="none" stroke="#ff9a93" stroke-opacity="0.85" stroke-width="1"/>
<rect x="344" y="508" width="3" height="23" fill="#a9ecd0"/>
<path d="M343.5 531V507.5H347.5V531" fill="none" stroke="#5cdaa6" stroke-opacity="0.85" stroke-width="1"/>
<rect x="341" y="502" width="2" height="29" fill="#a9ecd0"/>
<path d="M340.5 531V501.5H343.5V531" fill="none" stroke="#5cdaa6" stroke-opacity="0.85" stroke-width="1"/>
<rect x="337" y="502" width="3" height="29" fill="#a9ecd0"/>
<path d="M336.5 531V501.5H340.5V531" fill="none" stroke="#5cdaa6" stroke-opacity="0.85" stroke-width="1"/>
<rect x="334" y="505" width="2" height="26" fill="#a9ecd0"/>
<path d="M333.5 531V504.5H336.5V531" fill="none" stroke="#5cdaa6" stroke-opacity="0.85" stroke-width="1"/>
<rect x="330" y="506" width="3" height="25" fill="#ffc7c3"/>
<path d="M329.5 531V505.5H333.5V531" fill="none" stroke="#ff9a93" stroke-opacity="0.85" stroke-width="1"/>
<rect x="327" y="506" width="2" height="25" fill="#ffc7c3"/>
<path d="M326.5 531V505.5H329.5V531" fill="none" stroke="#ff9a93" stroke-opacity="0.85" stroke-width="1"/>
<rect x="323" y="506" width="3" height="25" fill="#a9ecd0"/>
<path d="M322.5 531V505.5H326.5V531" fill="none" stroke="#5cdaa6" stroke-opacity="0.85" stroke-width="1"/>
<rect x="319" y="505" width="3" height="26" fill="#ffc7c3"/>
<path d="M318.5 531V504.5H322.5V531" fill="none" stroke="#ff9a93" stroke-opacity="0.85" stroke-width="1"/>
<rect x="316" y="502" width="2" height="29" fill="#a9ecd0"/>
<path d="M315.5 531V501.5H318.5V531" fill="none" stroke="#5cdaa6" stroke-opacity="0.85" stroke-width="1"/>
<rect x="312" y="493" width="3" height="38" fill="#ffc7c3"/>
<path d="M311.5 531V492.5H315.5V531" fill="none" stroke="#ff9a93" stroke-opacity="0.85" stroke-width="1"/>
<rect x="309" y="505" width="2" height="26" fill="#ffc7c3"/>
<path d="M308.5 531V504.5H311.5V531" fill="none" stroke="#ff9a93" stroke-opacity="0.85" stroke-width="1"/>
<rect x="305" y="499" width="3" height="32" fill="#a9ecd0"/>
<path d="M304.5 531V498.5H308.5V531" fill="none" stroke="#5cdaa6" stroke-opacity="0.85" stroke-width="1"/>
<rect x="302" y="508" width="2" height="23" fill="#a9ecd0"/>
<path d="M301.5 531V507.5H304.5V531" fill="none" stroke="#5cdaa6" stroke-opacity="0.85" stroke-width="1"/>
<rect x="298" y="504" width="3" height="27" fill="#a9ecd0"/>
<path d="M297.5 531V503.5H301.5V531" fill="none" stroke="#5cdaa6" stroke-opacity="0.85" stroke-width="1"/>
<rect x="295" y="501" width="2" height="30" fill="#a9ecd0"/>
<path d="M294.5 531V500.5H297.5V531" fill="none" stroke="#5cdaa6" stroke-opacity="0.85" stroke-width="1"/>
<rect x="291" y="499" width="3" height="32" fill="#ffc7c3"/>
<path d="M290.5 531V498.5H294.5V531" fill="none" stroke="#ff9a93" stroke-opacity="0.85" stroke-width="1"/>
<rect x="288" y="507" width="2" height="24" fill="#a9ecd0"/>
<path d="M287.5 531V506.5H290.5V531" fill="none" stroke="#5cdaa6" stroke-opacity="0.85" stroke-width="1"/>
<rect x="283" y="531" width="4" height="1" fill="#5cdaa6" opacity="0.55"/>
<rect x="279" y="531" width="4" height="1" fill="#5cdaa6" opacity="0.55"/>
<rect x="276" y="531" width="3" height="1" fill="#5cdaa6" opacity="0.55"/>
<rect x="272" y="531" width="4" height="1" fill="#5cdaa6" opacity="0.55"/>
<rect x="269" y="531" width="3" height="1" fill="#ff9a93" opacity="0.55"/>
<rect x="265" y="531" width="4" height="1" fill="#ff9a93" opacity="0.55"/>
<rect x="262" y="531" width="3" height="1" fill="#ff9a93" opacity="0.55"/>
<rect x="258" y="531" width="4" height="1" fill="#ff9a93" opacity="0.55"/>
<rect x="255" y="531" width="3" height="1" fill="#5cdaa6" opacity="0.55"/>
<rect x="251" y="531" width="4" height="1" fill="#5cdaa6" opacity="0.55"/>
<rect x="248" y="531" width="3" height="1" fill="#ff9a93" opacity="0.55"/>
<rect x="244" y="531" width="4" height="1" fill="#5cdaa6" opacity="0.55"/>
<rect x="241" y="531" width="3" height="1" fill="#ff9a93" opacity="0.55"/>
<rect x="237" y="531" width="4" height="1" fill="#ff9a93" opacity="0.55"/>
<rect x="233" y="531" width="4" height="1" fill="#ff9a93" opacity="0.55"/>
<rect x="230" y="531" width="3" height="1" fill="#ff9a93" opacity="0.55"/>
<rect x="226" y="531" width="4" height="1" fill="#5cdaa6" opacity="0.55"/>
<rect x="223" y="531" width="3" height="1" fill="#ff9a93" opacity="0.55"/>
<rect x="220" y="531" width="3" height="1" fill="#ff9a93" opacity="0.55"/>
<rect x="216" y="531" width="4" height="1" fill="#5cdaa6" opacity="0.55"/>
<rect x="213" y="531" width="3" height="1" fill="#5cdaa6" opacity="0.55"/>
<rect x="209" y="531" width="4" height="1" fill="#5cdaa6" opacity="0.55"/>
<rect x="206" y="531" width="3" height="1" fill="#ff9a93" opacity="0.55"/>
<rect x="202" y="531" width="4" height="1" fill="#ff9a93" opacity="0.55"/>
<rect x="199" y="531" width="3" height="1" fill="#ff9a93" opacity="0.55"/>
<rect x="195" y="531" width="4" height="1" fill="#ff9a93" opacity="0.55"/>
<rect x="191" y="531" width="4" height="1" fill="#ff9a93" opacity="0.55"/>
<rect x="188" y="531" width="3" height="1" fill="#5cdaa6" opacity="0.55"/>
<rect x="184" y="531" width="4" height="1" fill="#ff9a93" opacity="0.55"/>
<rect x="181" y="531" width="3" height="1" fill="#ff9a93" opacity="0.55"/>
<rect x="178" y="516" width="3" height="15" fill="#a9ecd0"/>
<path d="M177.5 531V515.5H181.5V531" fill="none" stroke="#5cdaa6" stroke-opacity="0.85" stroke-width="1"/>
<rect x="175" y="520" width="2" height="11" fill="#a9ecd0"/>
<path d="M174.5 531V519.5H177.5V531" fill="none" stroke="#5cdaa6" stroke-opacity="0.85" stroke-width="1"/>
<rect x="171" y="519" width="3" height="12" fill="#ffc7c3"/>
<path d="M170.5 531V518.5H174.5V531" fill="none" stroke="#ff9a93" stroke-opacity="0.85" stroke-width="1"/>
<rect x="168" y="518" width="2" height="13" fill="#a9ecd0"/>
<path d="M167.5 531V517.5H170.5V531" fill="none" stroke="#5cdaa6" stroke-opacity="0.85" stroke-width="1"/>
<rect x="164" y="518" width="3" height="13" fill="#ffc7c3"/>
<path d="M163.5 531V517.5H167.5V531" fill="none" stroke="#ff9a93" stroke-opacity="0.85" stroke-width="1"/>
<rect x="161" y="520" width="2" height="11" fill="#a9ecd0"/>
<path d="M160.5 531V519.5H163.5V531" fill="none" stroke="#5cdaa6" stroke-opacity="0.85" stroke-width="1"/>
<rect x="157" y="520" width="3" height="11" fill="#a9ecd0"/>
<path d="M156.5 531V519.5H160.5V531" fill="none" stroke="#5cdaa6" stroke-opacity="0.85" stroke-width="1"/>
<rect x="153" y="519" width="3" height="12" fill="#ffc7c3"/>
<path d="M152.5 531V518.5H156.5V531" fill="none" stroke="#ff9a93" stroke-opacity="0.85" stroke-width="1"/>
<rect x="150" y="522" width="2" height="9" fill="#ffc7c3"/>
<path d="M149.5 531V521.5H152.5V531" fill="none" stroke="#ff9a93" stroke-opacity="0.85" stroke-width="1"/>
<rect x="146" y="523" width="3" height="8" fill="#ffc7c3"/>
<path d="M145.5 531V522.5H149.5V531" fill="none" stroke="#ff9a93" stroke-opacity="0.85" stroke-width="1"/>
<rect x="143" y="512" width="2" height="19" fill="#ffc7c3"/>
<path d="M142.5 531V511.5H145.5V531" fill="none" stroke="#ff9a93" stroke-opacity="0.85" stroke-width="1"/>
<rect x="139" y="518" width="3" height="13" fill="#a9ecd0"/>
<path d="M138.5 531V517.5H142.5V531" fill="none" stroke="#5cdaa6" stroke-opacity="0.85" stroke-width="1"/>
<rect x="136" y="518" width="2" height="13" fill="#ffc7c3"/>
<path d="M135.5 531V517.5H138.5V531" fill="none" stroke="#ff9a93" stroke-opacity="0.85" stroke-width="1"/>
<rect x="132" y="521" width="3" height="10" fill="#a9ecd0"/>
<path d="M131.5 531V520.5H135.5V531" fill="none" stroke="#5cdaa6" stroke-opacity="0.85" stroke-width="1"/>
<rect x="129" y="521" width="2" height="10" fill="#a9ecd0"/>
<path d="M128.5 531V520.5H131.5V531" fill="none" stroke="#5cdaa6" stroke-opacity="0.85" stroke-width="1"/>
<rect x="124" y="531" width="4" height="1" fill="#5cdaa6" opacity="0.55"/>
<rect x="121" y="531" width="3" height="1" fill="#ff9a93" opacity="0.55"/>
<rect x="117" y="531" width="4" height="1" fill="#5cdaa6" opacity="0.55"/>
<rect x="114" y="531" width="3" height="1" fill="#ff9a93" opacity="0.55"/>
<rect x="110" y="531" width="4" height="1" fill="#5cdaa6" opacity="0.55"/>
<rect x="106" y="531" width="4" height="1" fill="#ff9a93" opacity="0.55"/>
<rect x="103" y="531" width="3" height="1" fill="#5cdaa6" opacity="0.55"/>
<rect x="99" y="531" width="4" height="1" fill="#ff9a93" opacity="0.55"/>
<rect x="96" y="531" width="3" height="1" fill="#ff9a93" opacity="0.55"/>
<rect x="92" y="531" width="4" height="1" fill="#5cdaa6" opacity="0.55"/>
<rect x="89" y="531" width="3" height="1" fill="#ff9a93" opacity="0.55"/>
<rect x="85" y="531" width="4" height="1" fill="#5cdaa6" opacity="0.55"/>
<rect x="82" y="531" width="3" height="1" fill="#5cdaa6" opacity="0.55"/>
<rect x="78" y="531" width="4" height="1" fill="#ff9a93" opacity="0.55"/>
<rect x="75" y="531" width="3" height="1" fill="#ff9a93" opacity="0.55"/>
<rect x="71" y="531" width="4" height="1" fill="#ff9a93" opacity="0.55"/>
<rect x="67" y="531" width="4" height="1" fill="#5cdaa6" opacity="0.55"/>
<rect x="64" y="531" width="3" height="1" fill="#5cdaa6" opacity="0.55"/>
<rect x="60" y="531" width="4" height="1" fill="#5cdaa6" opacity="0.55"/>
<rect x="57" y="531" width="3" height="1" fill="#5cdaa6" opacity="0.55"/>
<rect x="53" y="531" width="4" height="1" fill="#5cdaa6" opacity="0.55"/>
<rect x="50" y="531" width="3" height="1" fill="#5cdaa6" opacity="0.55"/>
<rect x="46" y="531" width="4" height="1" fill="#5cdaa6" opacity="0.55"/>
<rect x="43" y="531" width="3" height="1" fill="#5cdaa6" opacity="0.55"/>
<rect x="39" y="531" width="4" height="1" fill="#ff9a93" opacity="0.55"/>
<rect x="36" y="531" width="3" height="1" fill="#5cdaa6" opacity="0.55"/>
<rect x="32" y="531" width="4" height="1" fill="#ff9a93" opacity="0.55"/>
<rect x="29" y="531" width="3" height="1" fill="#5cdaa6" opacity="0.55"/>
<rect x="25" y="531" width="4" height="1" fill="#5cdaa6" opacity="0.55"/>
<rect x="21" y="531" width="4" height="1" fill="#5cdaa6" opacity="0.55"/>
<rect x="18" y="531" width="3" height="1" fill="#5cdaa6" opacity="0.55"/>
<rect x="14" y="531" width="4" height="1" fill="#5cdaa6" opacity="0.55"/>
<rect x="11" y="531" width="3" height="1" fill="#5cdaa6" opacity="0.55"/>
<polyline points="11.5,530.5 14.5,530.5 18.5,530.5 21.5,530.5 25.5,530.5 29.5,530.5 32.5,530.5 36.5,530.5 39.5,530.5 43.5,530.5 46.5,530.5 50.5,530.5 53.5,530.5 57.5,530.5 60.5,530.5 64.5,530.5 67.5,530.5 71.5,530.5 75.5,530.5 78.5,530.5 82.5,530.5 85.5,530.5 89.5,530.5 92.5,530.5 96.5,530.5 99.5,530.5 103.5,530.5 106.5,530.5 110.5,530.5 114.5,530.5 117.5,530.5 121.5,530.5 124.5,530.5 128.5,530.0 131.5,529.4 135.5,528.7 138.5,528.0 142.5,527.1 145.5,526.6 149.5,526.1 152.5,525.5 156.5,524.9 160.5,524.3 163.5,523.6 167.5,522.9 170.5,522.3 174.5,521.7 177.5,520.9 181.5,520.9 184.5,520.9 188.5,520.9 191.5,520.9 195.5,520.9 199.5,521.4 202.5,522.0 206.5,522.7 209.5,523.4 213.5,524.4 216.5,524.8 220.5,525.3 223.5,525.9 227.5,526.5 230.5,527.1 234.5,527.8 237.5,528.5 241.5,529.1 245.5,529.7 248.5,530.5 252.5,530.5 255.5,530.5 259.5,530.5 262.5,530.5 266.5,530.5 269.5,530.5 273.5,530.5 276.5,530.5 280.5,530.5 284.5,530.5 287.5,529.2 291.5,527.6 294.5,526.0 298.5,524.6 301.5,523.4 305.5,521.7 308.5,520.4 312.5,518.4 315.5,516.9 319.5,515.6 322.5,514.2 326.5,512.9 330.5,511.6 333.5,510.3 337.5,508.7 340.5,507.2 344.5,506.0 347.5,504.4 351.5,503.0 354.5,501.4 358.5,501.1 361.5,501.4 365.5,501.2 369.5,500.9 372.5,500.6 376.5,500.5 379.5,500.2 383.5,500.6 386.5,500.8 390.5,500.3 393.5,500.1 397.5,499.4 400.5,499.2 404.5,498.1 407.5,497.6 411.5,497.6 415.5,497.0 418.5,496.8 422.5,496.4 425.5,496.1 429.5,496.2 432.5,495.5 436.5,495.1 439.5,494.2 443.5,494.0 446.5,493.5 450.5,492.5 454.5,491.9 457.5,490.4 461.5,490.2 464.5,489.6 468.5,489.0 471.5,488.9 475.5,487.7 478.5,487.3 482.5,486.1 485.5,485.7 489.5,485.6 492.5,485.1 496.5,484.2 500.5,483.7 503.5,482.5 507.5,479.8 510.5,480.0 514.5,479.6 517.5,479.6 521.5,480.2 524.5,479.9 528.5,480.5 531.5,480.7 535.5,481.3 539.5,482.4 542.5,482.6 546.5,484.4 549.5,484.9 553.5,485.9 556.5,486.7 560.5,486.8 563.5,487.1 567.5,488.1 570.5,488.1 574.5,488.6 577.5,491.4 581.5,492.2 585.5,492.9 588.5,493.4 592.5,493.8 595.5,494.7 599.5,495.5 602.5,495.6 606.5,495.7 609.5,495.0 613.5,494.6 616.5,493.8 620.5,493.5 624.5,492.8 627.5,490.1 631.5,488.6 634.5,487.8 638.5,486.8 641.5,486.6 645.5,486.6 648.5,485.9 652.5,484.8 655.5,484.0 659.5,483.3 662.5,482.5 666.5,481.8 670.5,481.1 673.5,480.4 677.5,479.9 680.5,480.1 684.5,480.5 687.5,481.1 691.5,481.4 694.5,481.5 698.5,483.6 701.5,485.3 705.5,486.5 709.5,487.9 712.5,488.7 716.5,490.0 719.5,491.3 723.5,492.7 726.5,494.0 730.5,494.9 733.5,496.1 737.5,497.0 740.5,497.8 744.5,499.0 747.5,499.7 751.5,500.5 755.5,500.7 758.5,501.4 762.5,501.5 765.5,502.4 769.5,503.1 772.5,503.1 776.5,503.2 779.5,503.2 783.5,503.2 786.5,503.4 790.5,503.2 794.5,503.0 797.5,502.5 801.5,502.2 804.5,501.8 808.5,502.0 811.5,501.8 815.5,501.5 818.5,500.9 822.5,500.7 825.5,500.5 829.5,500.5 832.5,500.5 836.5,500.5 840.5,500.7 843.5,500.8 847.5,500.8 850.5,500.7 854.5,500.6 857.5,500.5 861.5,500.9 864.5,500.5 868.5,500.9 871.5,501.3 875.5,501.4 879.5,501.3 882.5,501.4 886.5,501.7 889.5,502.3 893.5,502.3 896.5,502.5 900.5,502.2 903.5,502.3 907.5,501.9 910.5,501.6 914.5,501.5 917.5,501.2 921.5,501.3 925.5,501.4 928.5,501.2 932.5,500.8 935.5,501.0 939.5,500.9 942.5,501.0 946.5,501.3 949.5,501.2 953.5,501.3 956.5,501.1 960.5,500.9 964.5,501.1 967.5,500.8 971.5,501.1 974.5,501.5 978.5,502.2 981.5,502.6 985.5,503.0 988.5,503.1 992.5,501.1 995.5,500.6 999.5,500.5 1002.5,500.2 1006.5,500.5 1010.5,500.9 1013.5,501.2 1017.5,501.2 1020.5,501.3 1024.5,501.5 1027.5,501.9 1031.5,502.2 1034.5,502.2 1038.5,502.7 1041.5,502.9 1045.5,503.3 1049.5,503.6 1052.5,503.8 1056.5,504.1 1059.5,504.7 1063.5,507.1 1066.5,507.9 1070.5,508.3 1073.5,508.8 1077.5,508.1 1080.5,507.8 1084.5,507.6 1087.5,507.5 1091.5,507.7 1095.5,507.8 1098.5,507.8 1102.5,507.8 1105.5,508.2 1109.5,508.3 1112.5,508.5 1116.5,508.4 1119.5,507.7 1123.5,507.5 1126.5,507.3 1130.5,507.2 1134.5,507.4 1137.5,507.4 1141.5,507.5 1144.5,507.9 1148.5,508.8 1151.5,509.0 1155.5,509.3 1158.5,509.5 1162.5,510.5 1165.5,511.4 1169.5,512.5 1172.5,513.4 1176.5,514.5 1180.5,515.2 1183.5,515.1 1187.5,515.1 1190.5,515.8 1194.5,515.9 1197.5,515.9 1201.5,516.9" fill="none" stroke="#3a3a3a" stroke-width="1.8" stroke-linejoin="round" shape-rendering="auto" opacity="0.47"/>
<rect x="11" y="388" width="1" height="6" fill="#1c5f3a"/>
<rect x="10" y="389" width="3" height="4" fill="#1c5f3a"/>
<rect x="11" y="390" width="1" height="2" fill="#12c46c"/>
<rect x="14" y="385" width="1" height="5" fill="#1c5f3a"/>
<rect x="13" y="386" width="3" height="4" fill="#1c5f3a"/>
<rect x="14" y="387" width="1" height="2" fill="#12c46c"/>
<rect x="18" y="386" width="1" height="2" fill="#1c5f3a"/>
<rect x="17" y="386" width="3" height="1" fill="#1c5f3a"/>
<rect x="21" y="382" width="1" height="5" fill="#1c5f3a"/>
<rect x="20" y="384" width="3" height="3" fill="#1c5f3a"/>
<rect x="21" y="385" width="1" height="1" fill="#12c46c"/>
<rect x="25" y="380" width="1" height="5" fill="#1c5f3a"/>
<rect x="24" y="381" width="3" height="4" fill="#1c5f3a"/>
<rect x="25" y="382" width="1" height="2" fill="#12c46c"/>
<rect x="29" y="370" width="1" height="12" fill="#1c5f3a"/>
<rect x="28" y="371" width="3" height="11" fill="#1c5f3a"/>
<rect x="29" y="372" width="1" height="9" fill="#12c46c"/>
<rect x="32" y="371" width="1" height="9" fill="#1c5f3a"/>
<rect x="31" y="371" width="3" height="8" fill="#7d1f1c"/>
<rect x="32" y="372" width="1" height="6" fill="#f5605a"/>
<rect x="36" y="373" width="1" height="8" fill="#1c5f3a"/>
<rect x="35" y="374" width="3" height="5" fill="#1c5f3a"/>
<rect x="36" y="375" width="1" height="3" fill="#12c46c"/>
<rect x="39" y="370" width="1" height="17" fill="#1c5f3a"/>
<rect x="38" y="374" width="3" height="8" fill="#7d1f1c"/>
<rect x="39" y="375" width="1" height="6" fill="#f5605a"/>
<rect x="43" y="376" width="1" height="8" fill="#1c5f3a"/>
<rect x="42" y="377" width="3" height="5" fill="#1c5f3a"/>
<rect x="43" y="378" width="1" height="3" fill="#12c46c"/>
<rect x="46" y="371" width="1" height="7" fill="#1c5f3a"/>
<rect x="45" y="373" width="3" height="5" fill="#1c5f3a"/>
<rect x="46" y="374" width="1" height="3" fill="#12c46c"/>
<rect x="50" y="369" width="1" height="7" fill="#1c5f3a"/>
<rect x="49" y="370" width="3" height="4" fill="#1c5f3a"/>
<rect x="50" y="371" width="1" height="2" fill="#12c46c"/>
<rect x="53" y="366" width="1" height="5" fill="#1c5f3a"/>
<rect x="52" y="366" width="3" height="5" fill="#1c5f3a"/>
<rect x="53" y="367" width="1" height="3" fill="#12c46c"/>
<rect x="57" y="359" width="1" height="9" fill="#1c5f3a"/>
<rect x="56" y="360" width="3" height="7" fill="#1c5f3a"/>
<rect x="57" y="361" width="1" height="5" fill="#12c46c"/>
<rect x="60" y="355" width="1" height="7" fill="#1c5f3a"/>
<rect x="59" y="358" width="3" height="3" fill="#1c5f3a"/>
<rect x="60" y="359" width="1" height="1" fill="#12c46c"/>
<rect x="64" y="350" width="1" height="10" fill="#1c5f3a"/>
<rect x="63" y="352" width="3" height="7" fill="#1c5f3a"/>
<rect x="64" y="353" width="1" height="5" fill="#12c46c"/>
<rect x="67" y="344" width="1" height="9" fill="#1c5f3a"/>
<rect x="66" y="347" width="3" height="6" fill="#1c5f3a"/>
<rect x="67" y="348" width="1" height="4" fill="#12c46c"/>
<rect x="71" y="340" width="1" height="8" fill="#1c5f3a"/>
<rect x="70" y="347" width="3" height="1" fill="#7d1f1c"/>
<rect x="75" y="347" width="1" height="18" fill="#1c5f3a"/>
<rect x="74" y="347" width="3" height="18" fill="#7d1f1c"/>
<rect x="75" y="348" width="1" height="16" fill="#f5605a"/>
<rect x="78" y="357" width="1" height="15" fill="#1c5f3a"/>
<rect x="77" y="364" width="3" height="7" fill="#7d1f1c"/>
<rect x="78" y="365" width="1" height="5" fill="#f5605a"/>
<rect x="82" y="366" width="1" height="13" fill="#1c5f3a"/>
<rect x="81" y="366" width="3" height="5" fill="#1c5f3a"/>
<rect x="82" y="367" width="1" height="3" fill="#12c46c"/>
<rect x="85" y="359" width="1" height="8" fill="#1c5f3a"/>
<rect x="84" y="361" width="3" height="6" fill="#1c5f3a"/>
<rect x="85" y="362" width="1" height="4" fill="#12c46c"/>
<rect x="89" y="360" width="1" height="11" fill="#1c5f3a"/>
<rect x="88" y="361" width="3" height="1" fill="#7d1f1c"/>
<rect x="92" y="353" width="1" height="10" fill="#1c5f3a"/>
<rect x="91" y="359" width="3" height="3" fill="#1c5f3a"/>
<rect x="92" y="360" width="1" height="1" fill="#12c46c"/>
<rect x="96" y="358" width="1" height="7" fill="#1c5f3a"/>
<rect x="95" y="359" width="3" height="5" fill="#7d1f1c"/>
<rect x="96" y="360" width="1" height="3" fill="#f5605a"/>
<rect x="99" y="359" width="1" height="8" fill="#1c5f3a"/>
<rect x="98" y="363" width="3" height="1" fill="#7d1f1c"/>
<rect x="103" y="355" width="1" height="9" fill="#1c5f3a"/>
<rect x="102" y="356" width="3" height="8" fill="#1c5f3a"/>
<rect x="103" y="357" width="1" height="6" fill="#12c46c"/>
<rect x="106" y="354" width="1" height="8" fill="#1c5f3a"/>
<rect x="105" y="356" width="3" height="5" fill="#7d1f1c"/>
<rect x="106" y="357" width="1" height="3" fill="#f5605a"/>
<rect x="110" y="353" width="1" height="9" fill="#1c5f3a"/>
<rect x="109" y="355" width="3" height="6" fill="#1c5f3a"/>
<rect x="110" y="356" width="1" height="4" fill="#12c46c"/>
<rect x="114" y="351" width="1" height="10" fill="#1c5f3a"/>
<rect x="113" y="355" width="3" height="6" fill="#7d1f1c"/>
<rect x="114" y="356" width="1" height="4" fill="#f5605a"/>
<rect x="117" y="354" width="1" height="8" fill="#1c5f3a"/>
<rect x="116" y="357" width="3" height="4" fill="#1c5f3a"/>
<rect x="117" y="358" width="1" height="2" fill="#12c46c"/>
<rect x="121" y="353" width="1" height="7" fill="#1c5f3a"/>
<rect x="120" y="357" width="3" height="3" fill="#7d1f1c"/>
<rect x="121" y="358" width="1" height="1" fill="#f5605a"/>
<rect x="124" y="353" width="1" height="7" fill="#1c5f3a"/>
<rect x="123" y="353" width="3" height="7" fill="#1c5f3a"/>
<rect x="124" y="354" width="1" height="5" fill="#12c46c"/>
<rect x="128" y="345" width="1" height="9" fill="#1c5f3a"/>
<rect x="127" y="347" width="3" height="7" fill="#1c5f3a"/>
<rect x="128" y="348" width="1" height="5" fill="#12c46c"/>
<rect x="131" y="329" width="1" height="19" fill="#1c5f3a"/>
<rect x="130" y="330" width="3" height="18" fill="#1c5f3a"/>
<rect x="131" y="331" width="1" height="16" fill="#12c46c"/>
<rect x="135" y="324" width="1" height="16" fill="#1c5f3a"/>
<rect x="134" y="330" width="3" height="3" fill="#7d1f1c"/>
<rect x="135" y="331" width="1" height="1" fill="#f5605a"/>
<rect x="138" y="317" width="1" height="16" fill="#1c5f3a"/>
<rect x="137" y="320" width="3" height="13" fill="#1c5f3a"/>
<rect x="138" y="321" width="1" height="11" fill="#12c46c"/>
<rect x="142" y="312" width="1" height="11" fill="#1c5f3a"/>
<rect x="141" y="320" width="3" height="1" fill="#7d1f1c"/>
<rect x="145" y="320" width="1" height="12" fill="#1c5f3a"/>
<rect x="144" y="320" width="3" height="4" fill="#7d1f1c"/>
<rect x="145" y="321" width="1" height="2" fill="#f5605a"/>
<rect x="149" y="320" width="1" height="13" fill="#1c5f3a"/>
<rect x="148" y="323" width="3" height="6" fill="#7d1f1c"/>
<rect x="149" y="324" width="1" height="4" fill="#f5605a"/>
<rect x="152" y="322" width="1" height="10" fill="#1c5f3a"/>
<rect x="151" y="328" width="3" height="4" fill="#7d1f1c"/>
<rect x="152" y="329" width="1" height="2" fill="#f5605a"/>
<rect x="156" y="322" width="1" height="10" fill="#1c5f3a"/>
<rect x="155" y="327" width="3" height="5" fill="#1c5f3a"/>
<rect x="156" y="328" width="1" height="3" fill="#12c46c"/>
<rect x="160" y="322" width="1" height="9" fill="#1c5f3a"/>
<rect x="159" y="326" width="3" height="2" fill="#1c5f3a"/>
<rect x="163" y="323" width="1" height="15" fill="#1c5f3a"/>
<rect x="162" y="326" width="3" height="8" fill="#7d1f1c"/>
<rect x="163" y="327" width="1" height="6" fill="#f5605a"/>
<rect x="167" y="329" width="1" height="12" fill="#1c5f3a"/>
<rect x="166" y="329" width="3" height="5" fill="#1c5f3a"/>
<rect x="167" y="330" width="1" height="3" fill="#12c46c"/>
<rect x="170" y="328" width="1" height="13" fill="#1c5f3a"/>
<rect x="169" y="329" width="3" height="12" fill="#7d1f1c"/>
<rect x="170" y="330" width="1" height="10" fill="#f5605a"/>
<rect x="174" y="332" width="1" height="13" fill="#1c5f3a"/>
<rect x="173" y="339" width="3" height="2" fill="#1c5f3a"/>
<rect x="177" y="332" width="1" height="11" fill="#1c5f3a"/>
<rect x="176" y="333" width="3" height="7" fill="#1c5f3a"/>
<rect x="177" y="334" width="1" height="5" fill="#12c46c"/>
<rect x="181" y="333" width="1" height="12" fill="#1c5f3a"/>
<rect x="180" y="333" width="3" height="10" fill="#7d1f1c"/>
<rect x="181" y="334" width="1" height="8" fill="#f5605a"/>
<rect x="184" y="340" width="1" height="16" fill="#1c5f3a"/>
<rect x="183" y="342" width="3" height="7" fill="#7d1f1c"/>
<rect x="184" y="343" width="1" height="5" fill="#f5605a"/>
<rect x="188" y="340" width="1" height="15" fill="#1c5f3a"/>
<rect x="187" y="341" width="3" height="8" fill="#1c5f3a"/>
<rect x="188" y="342" width="1" height="6" fill="#12c46c"/>
<rect x="191" y="340" width="1" height="6" fill="#1c5f3a"/>
<rect x="190" y="341" width="3" height="4" fill="#7d1f1c"/>
<rect x="191" y="342" width="1" height="2" fill="#f5605a"/>
<rect x="195" y="341" width="1" height="8" fill="#1c5f3a"/>
<rect x="194" y="344" width="3" height="2" fill="#7d1f1c"/>
<rect x="199" y="344" width="1" height="9" fill="#1c5f3a"/>
<rect x="198" y="345" width="3" height="4" fill="#7d1f1c"/>
<rect x="199" y="346" width="1" height="2" fill="#f5605a"/>
<rect x="202" y="347" width="1" height="12" fill="#1c5f3a"/>
<rect x="201" y="348" width="3" height="11" fill="#7d1f1c"/>
<rect x="202" y="349" width="1" height="9" fill="#f5605a"/>
<rect x="206" y="358" width="1" height="26" fill="#1c5f3a"/>
<rect x="205" y="358" width="3" height="15" fill="#7d1f1c"/>
<rect x="206" y="359" width="1" height="13" fill="#f5605a"/>
<rect x="209" y="363" width="1" height="12" fill="#1c5f3a"/>
<rect x="208" y="368" width="3" height="5" fill="#1c5f3a"/>
<rect x="209" y="369" width="1" height="3" fill="#12c46c"/>
<rect x="213" y="357" width="1" height="13" fill="#1c5f3a"/>
<rect x="212" y="361" width="3" height="8" fill="#1c5f3a"/>
<rect x="213" y="362" width="1" height="6" fill="#12c46c"/>
<rect x="216" y="356" width="1" height="6" fill="#1c5f3a"/>
<rect x="215" y="359" width="3" height="3" fill="#1c5f3a"/>
<rect x="216" y="360" width="1" height="1" fill="#12c46c"/>
<rect x="220" y="356" width="1" height="6" fill="#1c5f3a"/>
<rect x="219" y="359" width="3" height="2" fill="#7d1f1c"/>
<rect x="223" y="359" width="1" height="7" fill="#1c5f3a"/>
<rect x="222" y="360" width="3" height="2" fill="#7d1f1c"/>
<rect x="227" y="354" width="1" height="8" fill="#1c5f3a"/>
<rect x="226" y="355" width="3" height="7" fill="#1c5f3a"/>
<rect x="227" y="356" width="1" height="5" fill="#12c46c"/>
<rect x="230" y="355" width="1" height="8" fill="#1c5f3a"/>
<rect x="229" y="355" width="3" height="7" fill="#7d1f1c"/>
<rect x="230" y="356" width="1" height="5" fill="#f5605a"/>
<rect x="234" y="359" width="1" height="6" fill="#1c5f3a"/>
<rect x="233" y="361" width="3" height="4" fill="#7d1f1c"/>
<rect x="234" y="362" width="1" height="2" fill="#f5605a"/>
<rect x="237" y="364" width="1" height="14" fill="#1c5f3a"/>
<rect x="236" y="364" width="3" height="8" fill="#7d1f1c"/>
<rect x="237" y="365" width="1" height="6" fill="#f5605a"/>
<rect x="241" y="370" width="1" height="19" fill="#1c5f3a"/>
<rect x="240" y="371" width="3" height="12" fill="#7d1f1c"/>
<rect x="241" y="372" width="1" height="10" fill="#f5605a"/>
<rect x="245" y="378" width="1" height="11" fill="#1c5f3a"/>
<rect x="244" y="382" width="3" height="1" fill="#1c5f3a"/>
<rect x="248" y="382" width="1" height="16" fill="#1c5f3a"/>
<rect x="247" y="382" width="3" height="16" fill="#7d1f1c"/>
<rect x="248" y="383" width="1" height="14" fill="#f5605a"/>
<rect x="252" y="388" width="1" height="14" fill="#1c5f3a"/>
<rect x="251" y="390" width="3" height="8" fill="#1c5f3a"/>
<rect x="252" y="391" width="1" height="6" fill="#12c46c"/>
<rect x="255" y="386" width="1" height="7" fill="#1c5f3a"/>
<rect x="254" y="388" width="3" height="3" fill="#1c5f3a"/>
<rect x="255" y="389" width="1" height="1" fill="#12c46c"/>
<rect x="259" y="385" width="1" height="10" fill="#1c5f3a"/>
<rect x="258" y="388" width="3" height="7" fill="#7d1f1c"/>
<rect x="259" y="389" width="1" height="5" fill="#f5605a"/>
<rect x="262" y="390" width="1" height="10" fill="#1c5f3a"/>
<rect x="261" y="394" width="3" height="4" fill="#7d1f1c"/>
<rect x="262" y="395" width="1" height="2" fill="#f5605a"/>
<rect x="266" y="396" width="1" height="6" fill="#1c5f3a"/>
<rect x="265" y="397" width="3" height="4" fill="#7d1f1c"/>
<rect x="266" y="398" width="1" height="2" fill="#f5605a"/>
<rect x="269" y="397" width="1" height="9" fill="#1c5f3a"/>
<rect x="268" y="400" width="3" height="3" fill="#7d1f1c"/>
<rect x="269" y="401" width="1" height="1" fill="#f5605a"/>
<rect x="273" y="393" width="1" height="10" fill="#1c5f3a"/>
<rect x="272" y="394" width="3" height="9" fill="#1c5f3a"/>
<rect x="273" y="395" width="1" height="7" fill="#12c46c"/>
<rect x="276" y="392" width="1" height="5" fill="#1c5f3a"/>
<rect x="275" y="393" width="3" height="2" fill="#1c5f3a"/>
<rect x="280" y="388" width="1" height="6" fill="#1c5f3a"/>
<rect x="279" y="389" width="3" height="5" fill="#1c5f3a"/>
<rect x="280" y="390" width="1" height="3" fill="#12c46c"/>
<rect x="284" y="384" width="1" height="7" fill="#1c5f3a"/>
<rect x="283" y="385" width="3" height="5" fill="#1c5f3a"/>
<rect x="284" y="386" width="1" height="3" fill="#12c46c"/>
<rect x="287" y="384" width="1" height="4" fill="#1c5f3a"/>
<rect x="286" y="385" width="3" height="1" fill="#1c5f3a"/>
<rect x="291" y="382" width="1" height="8" fill="#1c5f3a"/>
<rect x="290" y="385" width="3" height="5" fill="#7d1f1c"/>
<rect x="291" y="386" width="1" height="3" fill="#f5605a"/>
<rect x="294" y="381" width="1" height="9" fill="#1c5f3a"/>
<rect x="293" y="382" width="3" height="8" fill="#1c5f3a"/>
<rect x="294" y="383" width="1" height="6" fill="#12c46c"/>
<rect x="298" y="380" width="1" height="3" fill="#1c5f3a"/>
<rect x="297" y="381" width="3" height="2" fill="#1c5f3a"/>
<rect x="301" y="377" width="1" height="5" fill="#1c5f3a"/>
<rect x="300" y="378" width="3" height="4" fill="#1c5f3a"/>
<rect x="301" y="379" width="1" height="2" fill="#12c46c"/>
<rect x="305" y="374" width="1" height="5" fill="#1c5f3a"/>
<rect x="304" y="376" width="3" height="3" fill="#1c5f3a"/>
<rect x="305" y="377" width="1" height="1" fill="#12c46c"/>
<rect x="308" y="375" width="1" height="3" fill="#1c5f3a"/>
<rect x="307" y="376" width="3" height="2" fill="#7d1f1c"/>
<rect x="312" y="375" width="1" height="7" fill="#1c5f3a"/>
<rect x="311" y="377" width="3" height="3" fill="#7d1f1c"/>
<rect x="312" y="378" width="1" height="1" fill="#f5605a"/>
<rect x="315" y="375" width="1" height="5" fill="#1c5f3a"/>
<rect x="314" y="377" width="3" height="3" fill="#1c5f3a"/>
<rect x="315" y="378" width="1" height="1" fill="#12c46c"/>
<rect x="319" y="376" width="1" height="6" fill="#1c5f3a"/>
<rect x="318" y="377" width="3" height="2" fill="#7d1f1c"/>
<rect x="322" y="376" width="1" height="3" fill="#1c5f3a"/>
<rect x="321" y="376" width="3" height="3" fill="#1c5f3a"/>
<rect x="322" y="377" width="1" height="1" fill="#12c46c"/>
<rect x="326" y="376" width="1" height="5" fill="#1c5f3a"/>
<rect x="325" y="376" width="3" height="4" fill="#7d1f1c"/>
<rect x="326" y="377" width="1" height="2" fill="#f5605a"/>
<rect x="330" y="379" width="1" height="3" fill="#1c5f3a"/>
<rect x="329" y="379" width="3" height="2" fill="#7d1f1c"/>
<rect x="333" y="377" width="1" height="4" fill="#1c5f3a"/>
<rect x="332" y="379" width="3" height="2" fill="#1c5f3a"/>
<rect x="337" y="376" width="1" height="4" fill="#1c5f3a"/>
<rect x="336" y="378" width="3" height="2" fill="#1c5f3a"/>
<rect x="340" y="374" width="1" height="5" fill="#1c5f3a"/>
<rect x="339" y="375" width="3" height="4" fill="#1c5f3a"/>
<rect x="340" y="376" width="1" height="2" fill="#12c46c"/>
<rect x="344" y="373" width="1" height="3" fill="#1c5f3a"/>
<rect x="343" y="373" width="3" height="3" fill="#1c5f3a"/>
<rect x="344" y="374" width="1" height="1" fill="#12c46c"/>
<rect x="347" y="372" width="1" height="3" fill="#1c5f3a"/>
<rect x="346" y="373" width="3" height="1" fill="#7d1f1c"/>
<rect x="351" y="370" width="1" height="4" fill="#1c5f3a"/>
<rect x="350" y="371" width="3" height="3" fill="#1c5f3a"/>
<rect x="351" y="372" width="1" height="1" fill="#12c46c"/>
<rect x="354" y="369" width="1" height="3" fill="#1c5f3a"/>
<rect x="353" y="371" width="3" height="1" fill="#1c5f3a"/>
<rect x="358" y="369" width="1" height="6" fill="#1c5f3a"/>
<rect x="357" y="371" width="3" height="4" fill="#7d1f1c"/>
<rect x="358" y="372" width="1" height="2" fill="#f5605a"/>
<rect x="361" y="370" width="1" height="5" fill="#1c5f3a"/>
<rect x="360" y="370" width="3" height="5" fill="#1c5f3a"/>
<rect x="361" y="371" width="1" height="3" fill="#12c46c"/>
<rect x="365" y="367" width="1" height="4" fill="#1c5f3a"/>
<rect x="364" y="368" width="3" height="3" fill="#1c5f3a"/>
<rect x="365" y="369" width="1" height="1" fill="#12c46c"/>
<rect x="369" y="363" width="1" height="7" fill="#1c5f3a"/>
<rect x="368" y="363" width="3" height="6" fill="#1c5f3a"/>
<rect x="369" y="364" width="1" height="4" fill="#12c46c"/>
<rect x="372" y="362" width="1" height="4" fill="#1c5f3a"/>
<rect x="371" y="363" width="3" height="2" fill="#7d1f1c"/>
<rect x="376" y="360" width="1" height="5" fill="#1c5f3a"/>
<rect x="375" y="361" width="3" height="4" fill="#1c5f3a"/>
<rect x="376" y="362" width="1" height="2" fill="#12c46c"/>
<rect x="379" y="359" width="1" height="6" fill="#1c5f3a"/>
<rect x="378" y="360" width="3" height="4" fill="#7d1f1c"/>
<rect x="379" y="361" width="1" height="2" fill="#f5605a"/>
<rect x="383" y="358" width="1" height="6" fill="#1c5f3a"/>
<rect x="382" y="358" width="3" height="6" fill="#1c5f3a"/>
<rect x="383" y="359" width="1" height="4" fill="#12c46c"/>
<rect x="386" y="354" width="1" height="5" fill="#1c5f3a"/>
<rect x="385" y="355" width="3" height="4" fill="#1c5f3a"/>
<rect x="386" y="356" width="1" height="2" fill="#12c46c"/>
<rect x="390" y="350" width="1" height="7" fill="#1c5f3a"/>
<rect x="389" y="351" width="3" height="5" fill="#1c5f3a"/>
<rect x="390" y="352" width="1" height="3" fill="#12c46c"/>
<rect x="393" y="347" width="1" height="5" fill="#1c5f3a"/>
<rect x="392" y="349" width="3" height="3" fill="#1c5f3a"/>
<rect x="393" y="350" width="1" height="1" fill="#12c46c"/>
<rect x="397" y="346" width="1" height="5" fill="#1c5f3a"/>
<rect x="396" y="346" width="3" height="4" fill="#1c5f3a"/>
<rect x="397" y="347" width="1" height="2" fill="#12c46c"/>
<rect x="400" y="343" width="1" height="5" fill="#1c5f3a"/>
<rect x="399" y="345" width="3" height="2" fill="#1c5f3a"/>
<rect x="404" y="343" width="1" height="10" fill="#1c5f3a"/>
<rect x="403" y="345" width="3" height="6" fill="#7d1f1c"/>
<rect x="404" y="346" width="1" height="4" fill="#f5605a"/>
<rect x="407" y="348" width="1" height="9" fill="#1c5f3a"/>
<rect x="406" y="350" width="3" height="1" fill="#1c5f3a"/>
<rect x="411" y="349" width="1" height="7" fill="#1c5f3a"/>
<rect x="410" y="350" width="3" height="2" fill="#7d1f1c"/>
<rect x="415" y="347" width="1" height="6" fill="#1c5f3a"/>
<rect x="414" y="348" width="3" height="4" fill="#1c5f3a"/>
<rect x="415" y="349" width="1" height="2" fill="#12c46c"/>
<rect x="418" y="344" width="1" height="6" fill="#1c5f3a"/>
<rect x="417" y="345" width="3" height="4" fill="#1c5f3a"/>
<rect x="418" y="346" width="1" height="2" fill="#12c46c"/>
<rect x="422" y="341" width="1" height="6" fill="#1c5f3a"/>
<rect x="421" y="341" width="3" height="5" fill="#1c5f3a"/>
<rect x="422" y="342" width="1" height="3" fill="#12c46c"/>
<rect x="425" y="338" width="1" height="5" fill="#1c5f3a"/>
<rect x="424" y="341" width="3" height="1" fill="#1c5f3a"/>
<rect x="429" y="336" width="1" height="7" fill="#1c5f3a"/>
<rect x="428" y="336" width="3" height="6" fill="#1c5f3a"/>
<rect x="429" y="337" width="1" height="4" fill="#12c46c"/>
<rect x="432" y="333" width="1" height="4" fill="#1c5f3a"/>
<rect x="431" y="333" width="3" height="4" fill="#1c5f3a"/>
<rect x="432" y="334" width="1" height="2" fill="#12c46c"/>
<rect x="436" y="329" width="1" height="7" fill="#1c5f3a"/>
<rect x="435" y="333" width="3" height="2" fill="#7d1f1c"/>
<rect x="439" y="330" width="1" height="9" fill="#1c5f3a"/>
<rect x="438" y="331" width="3" height="4" fill="#1c5f3a"/>
<rect x="439" y="332" width="1" height="2" fill="#12c46c"/>
<rect x="443" y="323" width="1" height="9" fill="#1c5f3a"/>
<rect x="442" y="323" width="3" height="9" fill="#1c5f3a"/>
<rect x="443" y="324" width="1" height="7" fill="#12c46c"/>
<rect x="446" y="316" width="1" height="9" fill="#1c5f3a"/>
<rect x="445" y="316" width="3" height="8" fill="#1c5f3a"/>
<rect x="446" y="317" width="1" height="6" fill="#12c46c"/>
<rect x="450" y="312" width="1" height="10" fill="#1c5f3a"/>
<rect x="449" y="314" width="3" height="3" fill="#1c5f3a"/>
<rect x="450" y="315" width="1" height="1" fill="#12c46c"/>
<rect x="454" y="311" width="1" height="13" fill="#1c5f3a"/>
<rect x="453" y="314" width="3" height="8" fill="#7d1f1c"/>
<rect x="454" y="315" width="1" height="6" fill="#f5605a"/>
<rect x="457" y="320" width="1" height="7" fill="#1c5f3a"/>
<rect x="456" y="320" width="3" height="2" fill="#1c5f3a"/>
<rect x="461" y="316" width="1" height="8" fill="#1c5f3a"/>
<rect x="460" y="316" width="3" height="5" fill="#1c5f3a"/>
<rect x="461" y="317" width="1" height="3" fill="#12c46c"/>
<rect x="464" y="313" width="1" height="4" fill="#1c5f3a"/>
<rect x="463" y="314" width="3" height="3" fill="#1c5f3a"/>
<rect x="464" y="315" width="1" height="1" fill="#12c46c"/>
<rect x="468" y="314" width="1" height="9" fill="#1c5f3a"/>
<rect x="467" y="314" width="3" height="3" fill="#7d1f1c"/>
<rect x="468" y="315" width="1" height="1" fill="#f5605a"/>
<rect x="471" y="312" width="1" height="6" fill="#1c5f3a"/>
<rect x="470" y="313" width="3" height="4" fill="#1c5f3a"/>
<rect x="471" y="314" width="1" height="2" fill="#12c46c"/>
<rect x="475" y="313" width="1" height="27" fill="#1c5f3a"/>
<rect x="474" y="313" width="3" height="20" fill="#7d1f1c"/>
<rect x="475" y="314" width="1" height="18" fill="#f5605a"/>
<rect x="478" y="329" width="1" height="6" fill="#1c5f3a"/>
<rect x="477" y="332" width="3" height="3" fill="#7d1f1c"/>
<rect x="478" y="333" width="1" height="1" fill="#f5605a"/>
<rect x="482" y="333" width="1" height="10" fill="#1c5f3a"/>
<rect x="481" y="334" width="3" height="4" fill="#7d1f1c"/>
<rect x="482" y="335" width="1" height="2" fill="#f5605a"/>
<rect x="485" y="330" width="1" height="8" fill="#1c5f3a"/>
<rect x="484" y="331" width="3" height="7" fill="#1c5f3a"/>
<rect x="485" y="332" width="1" height="5" fill="#12c46c"/>
<rect x="489" y="327" width="1" height="5" fill="#1c5f3a"/>
<rect x="488" y="328" width="3" height="3" fill="#1c5f3a"/>
<rect x="489" y="329" width="1" height="1" fill="#12c46c"/>
<rect x="492" y="327" width="1" height="14" fill="#1c5f3a"/>
<rect x="491" y="328" width="3" height="12" fill="#7d1f1c"/>
<rect x="492" y="329" width="1" height="10" fill="#f5605a"/>
<rect x="496" y="337" width="1" height="10" fill="#1c5f3a"/>
<rect x="495" y="338" width="3" height="2" fill="#1c5f3a"/>
<rect x="500" y="336" width="1" height="7" fill="#1c5f3a"/>
<rect x="499" y="338" width="3" height="2" fill="#7d1f1c"/>
<rect x="503" y="337" width="1" height="14" fill="#1c5f3a"/>
<rect x="502" y="339" width="3" height="10" fill="#7d1f1c"/>
<rect x="503" y="340" width="1" height="8" fill="#f5605a"/>
<rect x="507" y="348" width="1" height="28" fill="#1c5f3a"/>
<rect x="506" y="348" width="3" height="14" fill="#7d1f1c"/>
<rect x="507" y="349" width="1" height="12" fill="#f5605a"/>
<rect x="510" y="357" width="1" height="19" fill="#1c5f3a"/>
<rect x="509" y="361" width="3" height="6" fill="#7d1f1c"/>
<rect x="510" y="362" width="1" height="4" fill="#f5605a"/>
<rect x="514" y="363" width="1" height="8" fill="#1c5f3a"/>
<rect x="513" y="364" width="3" height="3" fill="#1c5f3a"/>
<rect x="514" y="365" width="1" height="1" fill="#12c46c"/>
<rect x="517" y="360" width="1" height="16" fill="#1c5f3a"/>
<rect x="516" y="364" width="3" height="9" fill="#7d1f1c"/>
<rect x="517" y="365" width="1" height="7" fill="#f5605a"/>
<rect x="521" y="366" width="1" height="14" fill="#1c5f3a"/>
<rect x="520" y="372" width="3" height="8" fill="#7d1f1c"/>
<rect x="521" y="373" width="1" height="6" fill="#f5605a"/>
<rect x="524" y="373" width="1" height="11" fill="#1c5f3a"/>
<rect x="523" y="376" width="3" height="4" fill="#1c5f3a"/>
<rect x="524" y="377" width="1" height="2" fill="#12c46c"/>
<rect x="528" y="364" width="1" height="13" fill="#1c5f3a"/>
<rect x="527" y="365" width="3" height="12" fill="#1c5f3a"/>
<rect x="528" y="366" width="1" height="10" fill="#12c46c"/>
<rect x="531" y="360" width="1" height="7" fill="#1c5f3a"/>
<rect x="530" y="362" width="3" height="4" fill="#1c5f3a"/>
<rect x="531" y="363" width="1" height="2" fill="#12c46c"/>
<rect x="535" y="359" width="1" height="8" fill="#1c5f3a"/>
<rect x="534" y="362" width="3" height="3" fill="#7d1f1c"/>
<rect x="535" y="363" width="1" height="1" fill="#f5605a"/>
<rect x="539" y="355" width="1" height="14" fill="#1c5f3a"/>
<rect x="538" y="356" width="3" height="9" fill="#1c5f3a"/>
<rect x="539" y="357" width="1" height="7" fill="#12c46c"/>
<rect x="542" y="352" width="1" height="7" fill="#1c5f3a"/>
<rect x="541" y="354" width="3" height="3" fill="#1c5f3a"/>
<rect x="542" y="355" width="1" height="1" fill="#12c46c"/>
<rect x="546" y="349" width="1" height="8" fill="#1c5f3a"/>
<rect x="545" y="351" width="3" height="4" fill="#1c5f3a"/>
<rect x="546" y="352" width="1" height="2" fill="#12c46c"/>
<rect x="549" y="347" width="1" height="9" fill="#1c5f3a"/>
<rect x="548" y="351" width="3" height="5" fill="#7d1f1c"/>
<rect x="549" y="352" width="1" height="3" fill="#f5605a"/>
<rect x="553" y="347" width="1" height="9" fill="#1c5f3a"/>
<rect x="552" y="351" width="3" height="5" fill="#1c5f3a"/>
<rect x="553" y="352" width="1" height="3" fill="#12c46c"/>
<rect x="556" y="345" width="1" height="7" fill="#1c5f3a"/>
<rect x="555" y="346" width="3" height="6" fill="#1c5f3a"/>
<rect x="556" y="347" width="1" height="4" fill="#12c46c"/>
<rect x="560" y="344" width="1" height="9" fill="#1c5f3a"/>
<rect x="559" y="346" width="3" height="7" fill="#7d1f1c"/>
<rect x="560" y="347" width="1" height="5" fill="#f5605a"/>
<rect x="563" y="350" width="1" height="6" fill="#1c5f3a"/>
<rect x="562" y="352" width="3" height="1" fill="#1c5f3a"/>
<rect x="567" y="342" width="1" height="11" fill="#1c5f3a"/>
<rect x="566" y="343" width="3" height="10" fill="#1c5f3a"/>
<rect x="567" y="344" width="1" height="8" fill="#12c46c"/>
<rect x="570" y="340" width="1" height="4" fill="#1c5f3a"/>
<rect x="569" y="343" width="3" height="1" fill="#7d1f1c"/>
<rect x="574" y="340" width="1" height="12" fill="#1c5f3a"/>
<rect x="573" y="343" width="3" height="4" fill="#7d1f1c"/>
<rect x="574" y="344" width="1" height="2" fill="#f5605a"/>
<rect x="577" y="339" width="1" height="10" fill="#1c5f3a"/>
<rect x="576" y="346" width="3" height="1" fill="#1c5f3a"/>
<rect x="581" y="342" width="1" height="6" fill="#1c5f3a"/>
<rect x="580" y="343" width="3" height="4" fill="#1c5f3a"/>
<rect x="581" y="344" width="1" height="2" fill="#12c46c"/>
<rect x="585" y="340" width="1" height="8" fill="#1c5f3a"/>
<rect x="584" y="343" width="3" height="5" fill="#7d1f1c"/>
<rect x="585" y="344" width="1" height="3" fill="#f5605a"/>
<rect x="588" y="340" width="1" height="8" fill="#1c5f3a"/>
<rect x="587" y="342" width="3" height="6" fill="#1c5f3a"/>
<rect x="588" y="343" width="1" height="4" fill="#12c46c"/>
<rect x="592" y="335" width="1" height="9" fill="#1c5f3a"/>
<rect x="591" y="336" width="3" height="7" fill="#1c5f3a"/>
<rect x="592" y="337" width="1" height="5" fill="#12c46c"/>
<rect x="595" y="331" width="1" height="6" fill="#1c5f3a"/>
<rect x="594" y="335" width="3" height="2" fill="#1c5f3a"/>
<rect x="599" y="329" width="1" height="7" fill="#1c5f3a"/>
<rect x="598" y="331" width="3" height="5" fill="#1c5f3a"/>
<rect x="599" y="332" width="1" height="3" fill="#12c46c"/>
<rect x="602" y="327" width="1" height="7" fill="#1c5f3a"/>
<rect x="601" y="329" width="3" height="3" fill="#1c5f3a"/>
<rect x="602" y="330" width="1" height="1" fill="#12c46c"/>
<rect x="606" y="322" width="1" height="7" fill="#1c5f3a"/>
<rect x="605" y="325" width="3" height="4" fill="#1c5f3a"/>
<rect x="606" y="326" width="1" height="2" fill="#12c46c"/>
<rect x="609" y="324" width="1" height="14" fill="#1c5f3a"/>
<rect x="608" y="325" width="3" height="5" fill="#7d1f1c"/>
<rect x="609" y="326" width="1" height="3" fill="#f5605a"/>
<rect x="613" y="322" width="1" height="8" fill="#1c5f3a"/>
<rect x="612" y="322" width="3" height="8" fill="#1c5f3a"/>
<rect x="613" y="323" width="1" height="6" fill="#12c46c"/>
<rect x="616" y="321" width="1" height="8" fill="#1c5f3a"/>
<rect x="615" y="322" width="3" height="4" fill="#7d1f1c"/>
<rect x="616" y="323" width="1" height="2" fill="#f5605a"/>
<rect x="620" y="324" width="1" height="7" fill="#1c5f3a"/>
<rect x="619" y="324" width="3" height="2" fill="#1c5f3a"/>
<rect x="624" y="322" width="1" height="8" fill="#1c5f3a"/>
<rect x="623" y="324" width="3" height="4" fill="#7d1f1c"/>
<rect x="624" y="325" width="1" height="2" fill="#f5605a"/>
<rect x="627" y="326" width="1" height="30" fill="#1c5f3a"/>
<rect x="626" y="327" width="3" height="23" fill="#7d1f1c"/>
<rect x="627" y="328" width="1" height="21" fill="#f5605a"/>
<rect x="631" y="349" width="1" height="12" fill="#1c5f3a"/>
<rect x="630" y="349" width="3" height="5" fill="#7d1f1c"/>
<rect x="631" y="350" width="1" height="3" fill="#f5605a"/>
<rect x="634" y="339" width="1" height="19" fill="#1c5f3a"/>
<rect x="633" y="343" width="3" height="13" fill="#1c5f3a"/>
<rect x="634" y="344" width="1" height="11" fill="#12c46c"/>
<rect x="638" y="343" width="1" height="13" fill="#1c5f3a"/>
<rect x="637" y="344" width="3" height="4" fill="#1c5f3a"/>
<rect x="638" y="345" width="1" height="2" fill="#12c46c"/>
<rect x="641" y="343" width="1" height="8" fill="#1c5f3a"/>
<rect x="640" y="344" width="3" height="4" fill="#7d1f1c"/>
<rect x="641" y="345" width="1" height="2" fill="#f5605a"/>
<rect x="645" y="337" width="1" height="11" fill="#1c5f3a"/>
<rect x="644" y="338" width="3" height="10" fill="#1c5f3a"/>
<rect x="645" y="339" width="1" height="8" fill="#12c46c"/>
<rect x="648" y="330" width="1" height="9" fill="#1c5f3a"/>
<rect x="647" y="332" width="3" height="7" fill="#1c5f3a"/>
<rect x="648" y="333" width="1" height="5" fill="#12c46c"/>
<rect x="652" y="327" width="1" height="8" fill="#1c5f3a"/>
<rect x="651" y="331" width="3" height="2" fill="#1c5f3a"/>
<rect x="655" y="330" width="1" height="8" fill="#1c5f3a"/>
<rect x="654" y="331" width="3" height="4" fill="#7d1f1c"/>
<rect x="655" y="332" width="1" height="2" fill="#f5605a"/>
<rect x="659" y="334" width="1" height="8" fill="#1c5f3a"/>
<rect x="658" y="334" width="3" height="8" fill="#7d1f1c"/>
<rect x="659" y="335" width="1" height="6" fill="#f5605a"/>
<rect x="662" y="339" width="1" height="7" fill="#1c5f3a"/>
<rect x="661" y="339" width="3" height="3" fill="#1c5f3a"/>
<rect x="662" y="340" width="1" height="1" fill="#12c46c"/>
<rect x="666" y="332" width="1" height="9" fill="#1c5f3a"/>
<rect x="665" y="333" width="3" height="7" fill="#1c5f3a"/>
<rect x="666" y="334" width="1" height="5" fill="#12c46c"/>
<rect x="670" y="328" width="1" height="8" fill="#1c5f3a"/>
<rect x="669" y="330" width="3" height="4" fill="#1c5f3a"/>
<rect x="670" y="331" width="1" height="2" fill="#12c46c"/>
<rect x="673" y="321" width="1" height="10" fill="#1c5f3a"/>
<rect x="672" y="326" width="3" height="5" fill="#1c5f3a"/>
<rect x="673" y="327" width="1" height="3" fill="#12c46c"/>
<rect x="677" y="323" width="1" height="6" fill="#1c5f3a"/>
<rect x="676" y="326" width="3" height="1" fill="#1c5f3a"/>
<rect x="680" y="322" width="1" height="9" fill="#1c5f3a"/>
<rect x="679" y="323" width="3" height="4" fill="#1c5f3a"/>
<rect x="680" y="324" width="1" height="2" fill="#12c46c"/>
<rect x="684" y="319" width="1" height="5" fill="#1c5f3a"/>
<rect x="683" y="320" width="3" height="4" fill="#1c5f3a"/>
<rect x="684" y="321" width="1" height="2" fill="#12c46c"/>
<rect x="687" y="316" width="1" height="5" fill="#1c5f3a"/>
<rect x="686" y="318" width="3" height="3" fill="#1c5f3a"/>
<rect x="687" y="319" width="1" height="1" fill="#12c46c"/>
<rect x="691" y="317" width="1" height="4" fill="#1c5f3a"/>
<rect x="690" y="318" width="3" height="1" fill="#7d1f1c"/>
<rect x="694" y="313" width="1" height="7" fill="#1c5f3a"/>
<rect x="693" y="317" width="3" height="2" fill="#1c5f3a"/>
<rect x="698" y="314" width="1" height="8" fill="#1c5f3a"/>
<rect x="697" y="315" width="3" height="3" fill="#1c5f3a"/>
<rect x="698" y="316" width="1" height="1" fill="#12c46c"/>
<rect x="701" y="305" width="1" height="11" fill="#1c5f3a"/>
<rect x="700" y="309" width="3" height="7" fill="#1c5f3a"/>
<rect x="701" y="310" width="1" height="5" fill="#12c46c"/>
<rect x="705" y="307" width="1" height="13" fill="#1c5f3a"/>
<rect x="704" y="309" width="3" height="7" fill="#7d1f1c"/>
<rect x="705" y="310" width="1" height="5" fill="#f5605a"/>
<rect x="709" y="308" width="1" height="11" fill="#1c5f3a"/>
<rect x="708" y="310" width="3" height="6" fill="#1c5f3a"/>
<rect x="709" y="311" width="1" height="4" fill="#12c46c"/>
<rect x="712" y="307" width="1" height="7" fill="#1c5f3a"/>
<rect x="711" y="309" width="3" height="5" fill="#7d1f1c"/>
<rect x="712" y="310" width="1" height="3" fill="#f5605a"/>
<rect x="716" y="302" width="1" height="13" fill="#1c5f3a"/>
<rect x="715" y="305" width="3" height="9" fill="#1c5f3a"/>
<rect x="716" y="306" width="1" height="7" fill="#12c46c"/>
<rect x="719" y="297" width="1" height="10" fill="#1c5f3a"/>
<rect x="718" y="298" width="3" height="8" fill="#1c5f3a"/>
<rect x="719" y="299" width="1" height="6" fill="#12c46c"/>
<rect x="723" y="292" width="1" height="7" fill="#1c5f3a"/>
<rect x="722" y="292" width="3" height="7" fill="#1c5f3a"/>
<rect x="723" y="293" width="1" height="5" fill="#12c46c"/>
<rect x="726" y="289" width="1" height="10" fill="#1c5f3a"/>
<rect x="725" y="290" width="3" height="3" fill="#1c5f3a"/>
<rect x="726" y="291" width="1" height="1" fill="#12c46c"/>
<rect x="730" y="286" width="1" height="10" fill="#1c5f3a"/>
<rect x="729" y="289" width="3" height="6" fill="#7d1f1c"/>
<rect x="730" y="290" width="1" height="4" fill="#f5605a"/>
<rect x="733" y="287" width="1" height="11" fill="#1c5f3a"/>
<rect x="732" y="288" width="3" height="7" fill="#1c5f3a"/>
<rect x="733" y="289" width="1" height="5" fill="#12c46c"/>
<rect x="737" y="287" width="1" height="13" fill="#1c5f3a"/>
<rect x="736" y="289" width="3" height="2" fill="#1c5f3a"/>
<rect x="740" y="287" width="1" height="9" fill="#1c5f3a"/>
<rect x="739" y="289" width="3" height="1" fill="#1c5f3a"/>
<rect x="744" y="282" width="1" height="10" fill="#1c5f3a"/>
<rect x="743" y="283" width="3" height="7" fill="#1c5f3a"/>
<rect x="744" y="284" width="1" height="5" fill="#12c46c"/>
<rect x="747" y="281" width="1" height="5" fill="#1c5f3a"/>
<rect x="746" y="283" width="3" height="3" fill="#7d1f1c"/>
<rect x="747" y="284" width="1" height="1" fill="#f5605a"/>
<rect x="751" y="282" width="1" height="11" fill="#1c5f3a"/>
<rect x="750" y="285" width="3" height="8" fill="#7d1f1c"/>
<rect x="751" y="286" width="1" height="6" fill="#f5605a"/>
<rect x="755" y="289" width="1" height="12" fill="#1c5f3a"/>
<rect x="754" y="291" width="3" height="2" fill="#1c5f3a"/>
<rect x="758" y="284" width="1" height="8" fill="#1c5f3a"/>
<rect x="757" y="291" width="3" height="1" fill="#1c5f3a"/>
<rect x="762" y="290" width="1" height="19" fill="#1c5f3a"/>
<rect x="761" y="291" width="3" height="3" fill="#7d1f1c"/>
<rect x="762" y="292" width="1" height="1" fill="#f5605a"/>
<rect x="765" y="283" width="1" height="12" fill="#1c5f3a"/>
<rect x="764" y="283" width="3" height="11" fill="#1c5f3a"/>
<rect x="765" y="284" width="1" height="9" fill="#12c46c"/>
<rect x="769" y="280" width="1" height="15" fill="#1c5f3a"/>
<rect x="768" y="283" width="3" height="4" fill="#7d1f1c"/>
<rect x="769" y="284" width="1" height="2" fill="#f5605a"/>
<rect x="772" y="270" width="1" height="23" fill="#1c5f3a"/>
<rect x="771" y="272" width="3" height="15" fill="#1c5f3a"/>
<rect x="772" y="273" width="1" height="13" fill="#12c46c"/>
<rect x="776" y="260" width="1" height="14" fill="#1c5f3a"/>
<rect x="775" y="260" width="3" height="13" fill="#1c5f3a"/>
<rect x="776" y="261" width="1" height="11" fill="#12c46c"/>
<rect x="779" y="248" width="1" height="15" fill="#1c5f3a"/>
<rect x="778" y="252" width="3" height="9" fill="#1c5f3a"/>
<rect x="779" y="253" width="1" height="7" fill="#12c46c"/>
<rect x="783" y="244" width="1" height="18" fill="#1c5f3a"/>
<rect x="782" y="252" width="3" height="9" fill="#7d1f1c"/>
<rect x="783" y="253" width="1" height="7" fill="#f5605a"/>
<rect x="786" y="253" width="1" height="11" fill="#1c5f3a"/>
<rect x="785" y="260" width="3" height="1" fill="#7d1f1c"/>
<rect x="790" y="257" width="1" height="13" fill="#1c5f3a"/>
<rect x="789" y="260" width="3" height="9" fill="#7d1f1c"/>
<rect x="790" y="261" width="1" height="7" fill="#f5605a"/>
<rect x="794" y="254" width="1" height="18" fill="#1c5f3a"/>
<rect x="793" y="262" width="3" height="5" fill="#1c5f3a"/>
<rect x="794" y="263" width="1" height="3" fill="#12c46c"/>
<rect x="797" y="256" width="1" height="36" fill="#1c5f3a"/>
<rect x="796" y="262" width="3" height="17" fill="#7d1f1c"/>
<rect x="797" y="263" width="1" height="15" fill="#f5605a"/>
<rect x="801" y="275" width="1" height="18" fill="#1c5f3a"/>
<rect x="800" y="282" width="3" height="7" fill="#7d1f1c"/>
<rect x="801" y="283" width="1" height="5" fill="#f5605a"/>
<rect x="804" y="269" width="1" height="24" fill="#1c5f3a"/>
<rect x="803" y="269" width="3" height="20" fill="#1c5f3a"/>
<rect x="804" y="270" width="1" height="18" fill="#12c46c"/>
<rect x="808" y="260" width="1" height="12" fill="#1c5f3a"/>
<rect x="807" y="261" width="3" height="11" fill="#1c5f3a"/>
<rect x="808" y="262" width="1" height="9" fill="#12c46c"/>
<rect x="811" y="261" width="1" height="20" fill="#1c5f3a"/>
<rect x="810" y="261" width="3" height="11" fill="#7d1f1c"/>
<rect x="811" y="262" width="1" height="9" fill="#f5605a"/>
<rect x="815" y="275" width="1" height="18" fill="#1c5f3a"/>
<rect x="814" y="275" width="3" height="12" fill="#7d1f1c"/>
<rect x="815" y="276" width="1" height="10" fill="#f5605a"/>
<rect x="818" y="286" width="1" height="16" fill="#1c5f3a"/>
<rect x="817" y="286" width="3" height="5" fill="#7d1f1c"/>
<rect x="818" y="287" width="1" height="3" fill="#f5605a"/>
<rect x="822" y="281" width="1" height="10" fill="#1c5f3a"/>
<rect x="821" y="283" width="3" height="8" fill="#1c5f3a"/>
<rect x="822" y="284" width="1" height="6" fill="#12c46c"/>
<rect x="825" y="275" width="1" height="14" fill="#1c5f3a"/>
<rect x="824" y="282" width="3" height="2" fill="#1c5f3a"/>
<rect x="829" y="276" width="1" height="12" fill="#1c5f3a"/>
<rect x="828" y="278" width="3" height="5" fill="#1c5f3a"/>
<rect x="829" y="279" width="1" height="3" fill="#12c46c"/>
<rect x="832" y="276" width="1" height="14" fill="#1c5f3a"/>
<rect x="831" y="278" width="3" height="11" fill="#7d1f1c"/>
<rect x="832" y="279" width="1" height="9" fill="#f5605a"/>
<rect x="836" y="277" width="1" height="13" fill="#1c5f3a"/>
<rect x="835" y="277" width="3" height="12" fill="#1c5f3a"/>
<rect x="836" y="278" width="1" height="10" fill="#12c46c"/>
<rect x="840" y="270" width="1" height="12" fill="#1c5f3a"/>
<rect x="839" y="273" width="3" height="5" fill="#1c5f3a"/>
<rect x="840" y="274" width="1" height="3" fill="#12c46c"/>
<rect x="843" y="270" width="1" height="10" fill="#1c5f3a"/>
<rect x="842" y="273" width="3" height="3" fill="#7d1f1c"/>
<rect x="843" y="274" width="1" height="1" fill="#f5605a"/>
<rect x="847" y="270" width="1" height="7" fill="#1c5f3a"/>
<rect x="846" y="272" width="3" height="4" fill="#1c5f3a"/>
<rect x="847" y="273" width="1" height="2" fill="#12c46c"/>
<rect x="850" y="270" width="1" height="10" fill="#1c5f3a"/>
<rect x="849" y="271" width="3" height="3" fill="#7d1f1c"/>
<rect x="850" y="272" width="1" height="1" fill="#f5605a"/>
<rect x="854" y="259" width="1" height="17" fill="#1c5f3a"/>
<rect x="853" y="259" width="3" height="15" fill="#1c5f3a"/>
<rect x="854" y="260" width="1" height="13" fill="#12c46c"/>
<rect x="857" y="252" width="1" height="8" fill="#1c5f3a"/>
<rect x="856" y="258" width="3" height="2" fill="#1c5f3a"/>
<rect x="861" y="251" width="1" height="9" fill="#1c5f3a"/>
<rect x="860" y="254" width="3" height="5" fill="#1c5f3a"/>
<rect x="861" y="255" width="1" height="3" fill="#12c46c"/>
<rect x="864" y="246" width="1" height="9" fill="#1c5f3a"/>
<rect x="863" y="246" width="3" height="9" fill="#1c5f3a"/>
<rect x="864" y="247" width="1" height="7" fill="#12c46c"/>
<rect x="868" y="244" width="1" height="9" fill="#1c5f3a"/>
<rect x="867" y="244" width="3" height="3" fill="#1c5f3a"/>
<rect x="868" y="245" width="1" height="1" fill="#12c46c"/>
<rect x="871" y="237" width="1" height="8" fill="#1c5f3a"/>
<rect x="870" y="241" width="3" height="4" fill="#1c5f3a"/>
<rect x="871" y="242" width="1" height="2" fill="#12c46c"/>
<rect x="875" y="236" width="1" height="11" fill="#1c5f3a"/>
<rect x="874" y="241" width="3" height="6" fill="#7d1f1c"/>
<rect x="875" y="242" width="1" height="4" fill="#f5605a"/>
<rect x="879" y="242" width="1" height="8" fill="#1c5f3a"/>
<rect x="878" y="246" width="3" height="4" fill="#7d1f1c"/>
<rect x="879" y="247" width="1" height="2" fill="#f5605a"/>
<rect x="882" y="246" width="1" height="7" fill="#1c5f3a"/>
<rect x="881" y="249" width="3" height="2" fill="#7d1f1c"/>
<rect x="886" y="238" width="1" height="13" fill="#1c5f3a"/>
<rect x="885" y="238" width="3" height="13" fill="#1c5f3a"/>
<rect x="886" y="239" width="1" height="11" fill="#12c46c"/>
<rect x="889" y="231" width="1" height="8" fill="#1c5f3a"/>
<rect x="888" y="232" width="3" height="7" fill="#1c5f3a"/>
<rect x="889" y="233" width="1" height="5" fill="#12c46c"/>
<rect x="893" y="227" width="1" height="11" fill="#1c5f3a"/>
<rect x="892" y="230" width="3" height="6" fill="#7d1f1c"/>
<rect x="893" y="231" width="1" height="4" fill="#f5605a"/>
<rect x="896" y="230" width="1" height="8" fill="#1c5f3a"/>
<rect x="895" y="235" width="3" height="3" fill="#7d1f1c"/>
<rect x="896" y="236" width="1" height="1" fill="#f5605a"/>
<rect x="900" y="225" width="1" height="15" fill="#1c5f3a"/>
<rect x="899" y="232" width="3" height="6" fill="#1c5f3a"/>
<rect x="900" y="233" width="1" height="4" fill="#12c46c"/>
<rect x="903" y="231" width="1" height="20" fill="#1c5f3a"/>
<rect x="902" y="232" width="3" height="13" fill="#7d1f1c"/>
<rect x="903" y="233" width="1" height="11" fill="#f5605a"/>
<rect x="907" y="243" width="1" height="12" fill="#1c5f3a"/>
<rect x="906" y="244" width="3" height="6" fill="#7d1f1c"/>
<rect x="907" y="245" width="1" height="4" fill="#f5605a"/>
<rect x="910" y="240" width="1" height="13" fill="#1c5f3a"/>
<rect x="909" y="241" width="3" height="9" fill="#1c5f3a"/>
<rect x="910" y="242" width="1" height="7" fill="#12c46c"/>
<rect x="914" y="231" width="1" height="11" fill="#1c5f3a"/>
<rect x="913" y="241" width="3" height="1" fill="#7d1f1c"/>
<rect x="917" y="233" width="1" height="17" fill="#1c5f3a"/>
<rect x="916" y="241" width="3" height="6" fill="#7d1f1c"/>
<rect x="917" y="242" width="1" height="4" fill="#f5605a"/>
<rect x="921" y="236" width="1" height="14" fill="#1c5f3a"/>
<rect x="920" y="238" width="3" height="12" fill="#1c5f3a"/>
<rect x="921" y="239" width="1" height="10" fill="#12c46c"/>
<rect x="925" y="238" width="1" height="10" fill="#1c5f3a"/>
<rect x="924" y="238" width="3" height="8" fill="#7d1f1c"/>
<rect x="925" y="239" width="1" height="6" fill="#f5605a"/>
<rect x="928" y="243" width="1" height="10" fill="#1c5f3a"/>
<rect x="927" y="245" width="3" height="3" fill="#7d1f1c"/>
<rect x="928" y="246" width="1" height="1" fill="#f5605a"/>
<rect x="932" y="245" width="1" height="21" fill="#1c5f3a"/>
<rect x="931" y="247" width="3" height="14" fill="#7d1f1c"/>
<rect x="932" y="248" width="1" height="12" fill="#f5605a"/>
<rect x="935" y="256" width="1" height="11" fill="#1c5f3a"/>
<rect x="934" y="260" width="3" height="4" fill="#7d1f1c"/>
<rect x="935" y="261" width="1" height="2" fill="#f5605a"/>
<rect x="939" y="258" width="1" height="20" fill="#1c5f3a"/>
<rect x="938" y="259" width="3" height="16" fill="#7d1f1c"/>
<rect x="939" y="260" width="1" height="14" fill="#f5605a"/>
<rect x="942" y="262" width="1" height="14" fill="#1c5f3a"/>
<rect x="941" y="264" width="3" height="11" fill="#1c5f3a"/>
<rect x="942" y="265" width="1" height="9" fill="#12c46c"/>
<rect x="946" y="258" width="1" height="11" fill="#1c5f3a"/>
<rect x="945" y="259" width="3" height="6" fill="#1c5f3a"/>
<rect x="946" y="260" width="1" height="4" fill="#12c46c"/>
<rect x="949" y="254" width="1" height="8" fill="#1c5f3a"/>
<rect x="948" y="258" width="3" height="2" fill="#7d1f1c"/>
<rect x="953" y="245" width="1" height="15" fill="#1c5f3a"/>
<rect x="952" y="246" width="3" height="14" fill="#1c5f3a"/>
<rect x="953" y="247" width="1" height="12" fill="#12c46c"/>
<rect x="956" y="244" width="1" height="12" fill="#1c5f3a"/>
<rect x="955" y="246" width="3" height="10" fill="#7d1f1c"/>
<rect x="956" y="247" width="1" height="8" fill="#f5605a"/>
<rect x="960" y="244" width="1" height="12" fill="#1c5f3a"/>
<rect x="959" y="245" width="3" height="11" fill="#1c5f3a"/>
<rect x="960" y="246" width="1" height="9" fill="#12c46c"/>
<rect x="964" y="241" width="1" height="8" fill="#1c5f3a"/>
<rect x="963" y="242" width="3" height="7" fill="#7d1f1c"/>
<rect x="964" y="243" width="1" height="5" fill="#f5605a"/>
<rect x="967" y="246" width="1" height="17" fill="#1c5f3a"/>
<rect x="966" y="248" width="3" height="5" fill="#7d1f1c"/>
<rect x="967" y="249" width="1" height="3" fill="#f5605a"/>
<rect x="971" y="243" width="1" height="10" fill="#1c5f3a"/>
<rect x="970" y="244" width="3" height="9" fill="#1c5f3a"/>
<rect x="971" y="245" width="1" height="7" fill="#12c46c"/>
<rect x="974" y="235" width="1" height="18" fill="#1c5f3a"/>
<rect x="973" y="237" width="3" height="8" fill="#1c5f3a"/>
<rect x="974" y="238" width="1" height="6" fill="#12c46c"/>
<rect x="978" y="230" width="1" height="8" fill="#1c5f3a"/>
<rect x="977" y="232" width="3" height="6" fill="#1c5f3a"/>
<rect x="978" y="233" width="1" height="4" fill="#12c46c"/>
<rect x="981" y="229" width="1" height="8" fill="#1c5f3a"/>
<rect x="980" y="231" width="3" height="1" fill="#7d1f1c"/>
<rect x="985" y="224" width="1" height="13" fill="#1c5f3a"/>
<rect x="984" y="231" width="3" height="6" fill="#7d1f1c"/>
<rect x="985" y="232" width="1" height="4" fill="#f5605a"/>
<rect x="988" y="224" width="1" height="32" fill="#1c5f3a"/>
<rect x="987" y="236" width="3" height="18" fill="#7d1f1c"/>
<rect x="988" y="237" width="1" height="16" fill="#f5605a"/>
<rect x="992" y="247" width="1" height="63" fill="#1c5f3a"/>
<rect x="991" y="251" width="3" height="34" fill="#7d1f1c"/>
<rect x="992" y="252" width="1" height="32" fill="#f5605a"/>
<rect x="995" y="263" width="1" height="30" fill="#1c5f3a"/>
<rect x="994" y="269" width="3" height="21" fill="#1c5f3a"/>
<rect x="995" y="270" width="1" height="19" fill="#12c46c"/>
<rect x="999" y="254" width="1" height="27" fill="#1c5f3a"/>
<rect x="998" y="258" width="3" height="17" fill="#1c5f3a"/>
<rect x="999" y="259" width="1" height="15" fill="#12c46c"/>
<rect x="1002" y="237" width="1" height="21" fill="#1c5f3a"/>
<rect x="1001" y="246" width="3" height="8" fill="#1c5f3a"/>
<rect x="1002" y="247" width="1" height="6" fill="#12c46c"/>
<rect x="1006" y="231" width="1" height="19" fill="#1c5f3a"/>
<rect x="1005" y="245" width="3" height="2" fill="#7d1f1c"/>
<rect x="1010" y="232" width="1" height="15" fill="#1c5f3a"/>
<rect x="1009" y="236" width="3" height="11" fill="#1c5f3a"/>
<rect x="1010" y="237" width="1" height="9" fill="#12c46c"/>
<rect x="1013" y="229" width="1" height="17" fill="#1c5f3a"/>
<rect x="1012" y="236" width="3" height="4" fill="#7d1f1c"/>
<rect x="1013" y="237" width="1" height="2" fill="#f5605a"/>
<rect x="1017" y="234" width="1" height="26" fill="#1c5f3a"/>
<rect x="1016" y="239" width="3" height="20" fill="#7d1f1c"/>
<rect x="1017" y="240" width="1" height="18" fill="#f5605a"/>
<rect x="1020" y="228" width="1" height="31" fill="#1c5f3a"/>
<rect x="1019" y="231" width="3" height="28" fill="#1c5f3a"/>
<rect x="1020" y="232" width="1" height="26" fill="#12c46c"/>
<rect x="1024" y="220" width="1" height="16" fill="#1c5f3a"/>
<rect x="1023" y="224" width="3" height="8" fill="#1c5f3a"/>
<rect x="1024" y="225" width="1" height="6" fill="#12c46c"/>
<rect x="1027" y="218" width="1" height="12" fill="#1c5f3a"/>
<rect x="1026" y="221" width="3" height="8" fill="#7d1f1c"/>
<rect x="1027" y="222" width="1" height="6" fill="#f5605a"/>
<rect x="1031" y="216" width="1" height="14" fill="#1c5f3a"/>
<rect x="1030" y="223" width="3" height="6" fill="#1c5f3a"/>
<rect x="1031" y="224" width="1" height="4" fill="#12c46c"/>
<rect x="1034" y="204" width="1" height="18" fill="#1c5f3a"/>
<rect x="1033" y="204" width="3" height="17" fill="#1c5f3a"/>
<rect x="1034" y="205" width="1" height="15" fill="#12c46c"/>
<rect x="1038" y="195" width="1" height="10" fill="#1c5f3a"/>
<rect x="1037" y="202" width="3" height="3" fill="#1c5f3a"/>
<rect x="1038" y="203" width="1" height="1" fill="#12c46c"/>
<rect x="1041" y="194" width="1" height="14" fill="#1c5f3a"/>
<rect x="1040" y="197" width="3" height="6" fill="#1c5f3a"/>
<rect x="1041" y="198" width="1" height="4" fill="#12c46c"/>
<rect x="1045" y="189" width="1" height="11" fill="#1c5f3a"/>
<rect x="1044" y="195" width="3" height="3" fill="#1c5f3a"/>
<rect x="1045" y="196" width="1" height="1" fill="#12c46c"/>
<rect x="1049" y="191" width="1" height="12" fill="#1c5f3a"/>
<rect x="1048" y="194" width="3" height="2" fill="#7d1f1c"/>
<rect x="1052" y="187" width="1" height="9" fill="#1c5f3a"/>
<rect x="1051" y="191" width="3" height="5" fill="#1c5f3a"/>
<rect x="1052" y="192" width="1" height="3" fill="#12c46c"/>
<rect x="1056" y="189" width="1" height="15" fill="#1c5f3a"/>
<rect x="1055" y="189" width="3" height="12" fill="#7d1f1c"/>
<rect x="1056" y="190" width="1" height="10" fill="#f5605a"/>
<rect x="1059" y="191" width="1" height="16" fill="#1c5f3a"/>
<rect x="1058" y="193" width="3" height="11" fill="#1c5f3a"/>
<rect x="1059" y="194" width="1" height="9" fill="#12c46c"/>
<rect x="1063" y="184" width="1" height="20" fill="#1c5f3a"/>
<rect x="1062" y="192" width="3" height="11" fill="#7d1f1c"/>
<rect x="1063" y="193" width="1" height="9" fill="#f5605a"/>
<rect x="1066" y="188" width="1" height="15" fill="#1c5f3a"/>
<rect x="1065" y="190" width="3" height="11" fill="#1c5f3a"/>
<rect x="1066" y="191" width="1" height="9" fill="#12c46c"/>
<rect x="1070" y="185" width="1" height="19" fill="#1c5f3a"/>
<rect x="1069" y="190" width="3" height="7" fill="#7d1f1c"/>
<rect x="1070" y="191" width="1" height="5" fill="#f5605a"/>
<rect x="1073" y="192" width="1" height="31" fill="#1c5f3a"/>
<rect x="1072" y="194" width="3" height="19" fill="#7d1f1c"/>
<rect x="1073" y="195" width="1" height="17" fill="#f5605a"/>
<rect x="1077" y="205" width="1" height="39" fill="#1c5f3a"/>
<rect x="1076" y="213" width="3" height="1" fill="#1c5f3a"/>
<rect x="1080" y="210" width="1" height="17" fill="#1c5f3a"/>
<rect x="1079" y="213" width="3" height="6" fill="#7d1f1c"/>
<rect x="1080" y="214" width="1" height="4" fill="#f5605a"/>
<rect x="1084" y="209" width="1" height="21" fill="#1c5f3a"/>
<rect x="1083" y="213" width="3" height="8" fill="#1c5f3a"/>
<rect x="1084" y="214" width="1" height="6" fill="#12c46c"/>
<rect x="1087" y="209" width="1" height="32" fill="#1c5f3a"/>
<rect x="1086" y="212" width="3" height="28" fill="#7d1f1c"/>
<rect x="1087" y="213" width="1" height="26" fill="#f5605a"/>
<rect x="1091" y="227" width="1" height="18" fill="#1c5f3a"/>
<rect x="1090" y="228" width="3" height="14" fill="#1c5f3a"/>
<rect x="1091" y="229" width="1" height="12" fill="#12c46c"/>
<rect x="1095" y="221" width="1" height="18" fill="#1c5f3a"/>
<rect x="1094" y="228" width="3" height="11" fill="#7d1f1c"/>
<rect x="1095" y="229" width="1" height="9" fill="#f5605a"/>
<rect x="1098" y="227" width="1" height="26" fill="#1c5f3a"/>
<rect x="1097" y="240" width="3" height="10" fill="#7d1f1c"/>
<rect x="1098" y="241" width="1" height="8" fill="#f5605a"/>
<rect x="1102" y="231" width="1" height="22" fill="#1c5f3a"/>
<rect x="1101" y="231" width="3" height="22" fill="#1c5f3a"/>
<rect x="1102" y="232" width="1" height="20" fill="#12c46c"/>
<rect x="1105" y="209" width="1" height="27" fill="#1c5f3a"/>
<rect x="1104" y="213" width="3" height="19" fill="#1c5f3a"/>
<rect x="1105" y="214" width="1" height="17" fill="#12c46c"/>
<rect x="1109" y="209" width="1" height="14" fill="#1c5f3a"/>
<rect x="1108" y="211" width="3" height="11" fill="#7d1f1c"/>
<rect x="1109" y="212" width="1" height="9" fill="#f5605a"/>
<rect x="1112" y="200" width="1" height="22" fill="#1c5f3a"/>
<rect x="1111" y="202" width="3" height="20" fill="#1c5f3a"/>
<rect x="1112" y="203" width="1" height="18" fill="#12c46c"/>
<rect x="1116" y="194" width="1" height="9" fill="#1c5f3a"/>
<rect x="1115" y="198" width="3" height="5" fill="#1c5f3a"/>
<rect x="1116" y="199" width="1" height="3" fill="#12c46c"/>
<rect x="1119" y="193" width="1" height="20" fill="#1c5f3a"/>
<rect x="1118" y="194" width="3" height="5" fill="#1c5f3a"/>
<rect x="1119" y="195" width="1" height="3" fill="#12c46c"/>
<rect x="1123" y="189" width="1" height="7" fill="#1c5f3a"/>
<rect x="1122" y="189" width="3" height="6" fill="#1c5f3a"/>
<rect x="1123" y="190" width="1" height="4" fill="#12c46c"/>
<rect x="1126" y="183" width="1" height="11" fill="#1c5f3a"/>
<rect x="1125" y="189" width="3" height="5" fill="#7d1f1c"/>
<rect x="1126" y="190" width="1" height="3" fill="#f5605a"/>
<rect x="1130" y="182" width="1" height="12" fill="#1c5f3a"/>
<rect x="1129" y="186" width="3" height="8" fill="#1c5f3a"/>
<rect x="1130" y="187" width="1" height="6" fill="#12c46c"/>
<rect x="1134" y="180" width="1" height="18" fill="#1c5f3a"/>
<rect x="1133" y="181" width="3" height="6" fill="#1c5f3a"/>
<rect x="1134" y="182" width="1" height="4" fill="#12c46c"/>
<rect x="1137" y="180" width="1" height="17" fill="#1c5f3a"/>
<rect x="1136" y="181" width="3" height="9" fill="#7d1f1c"/>
<rect x="1137" y="182" width="1" height="7" fill="#f5605a"/>
<rect x="1141" y="188" width="1" height="14" fill="#1c5f3a"/>
<rect x="1140" y="189" width="3" height="10" fill="#7d1f1c"/>
<rect x="1141" y="190" width="1" height="8" fill="#f5605a"/>
<rect x="1144" y="195" width="1" height="15" fill="#1c5f3a"/>
<rect x="1143" y="198" width="3" height="10" fill="#7d1f1c"/>
<rect x="1144" y="199" width="1" height="8" fill="#f5605a"/>
<rect x="1148" y="184" width="1" height="24" fill="#1c5f3a"/>
<rect x="1147" y="185" width="3" height="23" fill="#1c5f3a"/>
<rect x="1148" y="186" width="1" height="21" fill="#12c46c"/>
<rect x="1151" y="171" width="1" height="15" fill="#1c5f3a"/>
<rect x="1150" y="176" width="3" height="10" fill="#1c5f3a"/>
<rect x="1151" y="177" width="1" height="8" fill="#12c46c"/>
<rect x="1155" y="172" width="1" height="13" fill="#1c5f3a"/>
<rect x="1154" y="174" width="3" height="3" fill="#1c5f3a"/>
<rect x="1155" y="175" width="1" height="1" fill="#12c46c"/>
<rect x="1158" y="162" width="1" height="13" fill="#1c5f3a"/>
<rect x="1157" y="162" width="3" height="13" fill="#1c5f3a"/>
<rect x="1158" y="163" width="1" height="11" fill="#12c46c"/>
<rect x="1162" y="149" width="1" height="16" fill="#1c5f3a"/>
<rect x="1161" y="149" width="3" height="14" fill="#1c5f3a"/>
<rect x="1162" y="150" width="1" height="12" fill="#12c46c"/>
<rect x="1165" y="153" width="1" height="6" fill="#1c5f3a"/>
<rect x="1164" y="155" width="3" height="4" fill="#7d1f1c"/>
<rect x="1165" y="156" width="1" height="2" fill="#f5605a"/>
<rect x="1169" y="142" width="1" height="17" fill="#1c5f3a"/>
<rect x="1168" y="149" width="3" height="10" fill="#1c5f3a"/>
<rect x="1169" y="150" width="1" height="8" fill="#12c46c"/>
<rect x="1172" y="144" width="1" height="14" fill="#1c5f3a"/>
<rect x="1171" y="146" width="3" height="8" fill="#7d1f1c"/>
<rect x="1172" y="147" width="1" height="6" fill="#f5605a"/>
<rect x="1176" y="143" width="1" height="13" fill="#1c5f3a"/>
<rect x="1175" y="148" width="3" height="3" fill="#1c5f3a"/>
<rect x="1176" y="149" width="1" height="1" fill="#12c46c"/>
<rect x="1180" y="141" width="1" height="29" fill="#1c5f3a"/>
<rect x="1179" y="142" width="3" height="7" fill="#1c5f3a"/>
<rect x="1180" y="143" width="1" height="5" fill="#12c46c"/>
<rect x="1183" y="133" width="1" height="21" fill="#1c5f3a"/>
<rect x="1182" y="136" width="3" height="7" fill="#1c5f3a"/>
<rect x="1183" y="137" width="1" height="5" fill="#12c46c"/>
<rect x="1187" y="131" width="1" height="11" fill="#1c5f3a"/>
<rect x="1186" y="136" width="3" height="5" fill="#7d1f1c"/>
<rect x="1187" y="137" width="1" height="3" fill="#f5605a"/>
<rect x="1190" y="131" width="1" height="13" fill="#1c5f3a"/>
<rect x="1189" y="131" width="3" height="10" fill="#1c5f3a"/>
<rect x="1190" y="132" width="1" height="8" fill="#12c46c"/>
<rect x="1194" y="116" width="1" height="16" fill="#1c5f3a"/>
<rect x="1193" y="126" width="3" height="6" fill="#1c5f3a"/>
<rect x="1194" y="127" width="1" height="4" fill="#12c46c"/>
<rect x="1197" y="97" width="1" height="30" fill="#1c5f3a"/>
<rect x="1196" y="97" width="3" height="30" fill="#1c5f3a"/>
<rect x="1197" y="98" width="1" height="28" fill="#12c46c"/>
<rect x="1201" y="94" width="1" height="12" fill="#1c5f3a"/>
<rect x="1200" y="97" width="3" height="9" fill="#1c5f3a"/>
<rect x="1201" y="98" width="1" height="7" fill="#12c46c"/>
<rect x="1308" y="58" width="1" height="479" fill="#555"/>
<rect x="0" y="425" width="1368" height="1" fill="#555"/>
<rect x="8" y="536" width="1301" height="1" fill="#555"/>
<rect x="1309" y="409" width="3" height="1" fill="#555"/>
<text x="1315" y="413.5" class="t">2000.00</text>
<rect x="1309" y="377" width="3" height="1" fill="#555"/>
<text x="1315" y="381.5" class="t">4000.00</text>
<rect x="1309" y="346" width="3" height="1" fill="#555"/>
<text x="1315" y="350.5" class="t">6000.00</text>
<rect x="1309" y="314" width="3" height="1" fill="#555"/>
<text x="1315" y="318.5" class="t">8000.00</text>
<rect x="1309" y="283" width="3" height="1" fill="#555"/>
<text x="1315" y="287.5" class="t">10000.00</text>
<rect x="1309" y="251" width="3" height="1" fill="#555"/>
<text x="1315" y="255.5" class="t">12000.00</text>
<rect x="1309" y="220" width="3" height="1" fill="#555"/>
<text x="1315" y="224.5" class="t">14000.00</text>
<rect x="1309" y="188" width="3" height="1" fill="#555"/>
<text x="1315" y="192.5" class="t">16000.00</text>
<rect x="1309" y="157" width="3" height="1" fill="#555"/>
<text x="1315" y="161.5" class="t">18000.00</text>
<rect x="1309" y="125" width="3" height="1" fill="#555"/>
<text x="1315" y="129.5" class="t">20000.00</text>
<rect x="1309" y="94" width="3" height="1" fill="#555"/>
<text x="1315" y="98.5" class="t">22000.00</text>
<rect x="1309" y="62" width="3" height="1" fill="#555"/>
<text x="1315" y="66.5" class="t">24000.00</text>
<rect x="1309" y="530" width="3" height="1" fill="#555"/>
<text x="1315" y="534.5" class="t">0</text>
<rect x="1309" y="502" width="3" height="1" fill="#555"/>
<text x="1315" y="506.5" class="t">2B</text>
<rect x="1309" y="473" width="3" height="1" fill="#555"/>
<text x="1315" y="477.5" class="t">4B</text>
<rect x="1309" y="445" width="3" height="1" fill="#555"/>
<text x="1315" y="449.5" class="t">6B</text>
<rect x="51" y="537" width="1" height="3" fill="#555"/>
<text x="51.5" y="550.6" class="tb" text-anchor="middle">1998</text>
<rect x="136" y="537" width="1" height="3" fill="#555"/>
<text x="136.5" y="550.6" class="tb" text-anchor="middle">2000</text>
<rect x="221" y="537" width="1" height="3" fill="#555"/>
<text x="221.5" y="550.6" class="tb" text-anchor="middle">2002</text>
<rect x="306" y="537" width="1" height="3" fill="#555"/>
<text x="306.5" y="550.6" class="tb" text-anchor="middle">2004</text>
<rect x="391" y="537" width="1" height="3" fill="#555"/>
<text x="391.5" y="550.6" class="tb" text-anchor="middle">2006</text>
<rect x="476" y="537" width="1" height="3" fill="#555"/>
<text x="476.5" y="550.6" class="tb" text-anchor="middle">2008</text>
<rect x="561" y="537" width="1" height="3" fill="#555"/>
<text x="561.5" y="550.6" class="tb" text-anchor="middle">2010</text>
<rect x="646" y="537" width="1" height="3" fill="#555"/>
<text x="646.5" y="550.6" class="tb" text-anchor="middle">2012</text>
<rect x="731" y="537" width="1" height="3" fill="#555"/>
<text x="731.5" y="550.6" class="tb" text-anchor="middle">2014</text>
<rect x="816" y="537" width="1" height="3" fill="#555"/>
<text x="816.5" y="550.6" class="tb" text-anchor="middle">2016</text>
<rect x="901" y="537" width="1" height="3" fill="#555"/>
<text x="901.5" y="550.6" class="tb" text-anchor="middle">2018</text>
<rect x="986" y="537" width="1" height="3" fill="#555"/>
<text x="986.5" y="550.6" class="tb" text-anchor="middle">2020</text>
<rect x="1071" y="537" width="1" height="3" fill="#555"/>
<text x="1071.5" y="550.6" class="tb" text-anchor="middle">2022</text>
<rect x="1156" y="537" width="1" height="3" fill="#555"/>
<text x="1156.5" y="550.6" class="tb" text-anchor="middle">2024</text>
<rect x="1241" y="537" width="1" height="3" fill="#555"/>
<text x="1241.5" y="550.6" class="tb" text-anchor="middle">2026</text>
<path d="M8 97.5H1308" stroke="#4a6fe3" stroke-width="1" stroke-dasharray="1.5 1.5" fill="none" shape-rendering="auto"/>
<rect x="1308" y="90" width="57" height="16" fill="#4a6fe3"/>
<rect x="1308" y="97" width="4" height="1" fill="#fff"/>
<text x="1315" y="102" class="tw">21787.90</text>
<rect x="1308" y="502" width="60" height="16" fill="#000"/>
<rect x="1308" y="509" width="4" height="1" fill="#fff"/>
<text x="1315" y="514" class="tw">950.026M</text>
<rect x="1308" y="518" width="60" height="16" fill="#0cc874"/>
<rect x="1308" y="525" width="4" height="1" fill="#fff"/>
<text x="1315" y="530" class="tw">349.985M</text>
</svg>
<div class="h1">Published on Investing.com, 7/Feb/2025 - 19:46:32 GMT, Powered by TradingView.</div>
<div class="h2">DAX, Germany, Xetra(CFD):DE40, M</div>
<div class="logo"><b>Investing</b><span>.com</span></div><div class="cover"></div><div class="dot"></div>
<div class="vl">Volume (20)</div>
</body></html>
